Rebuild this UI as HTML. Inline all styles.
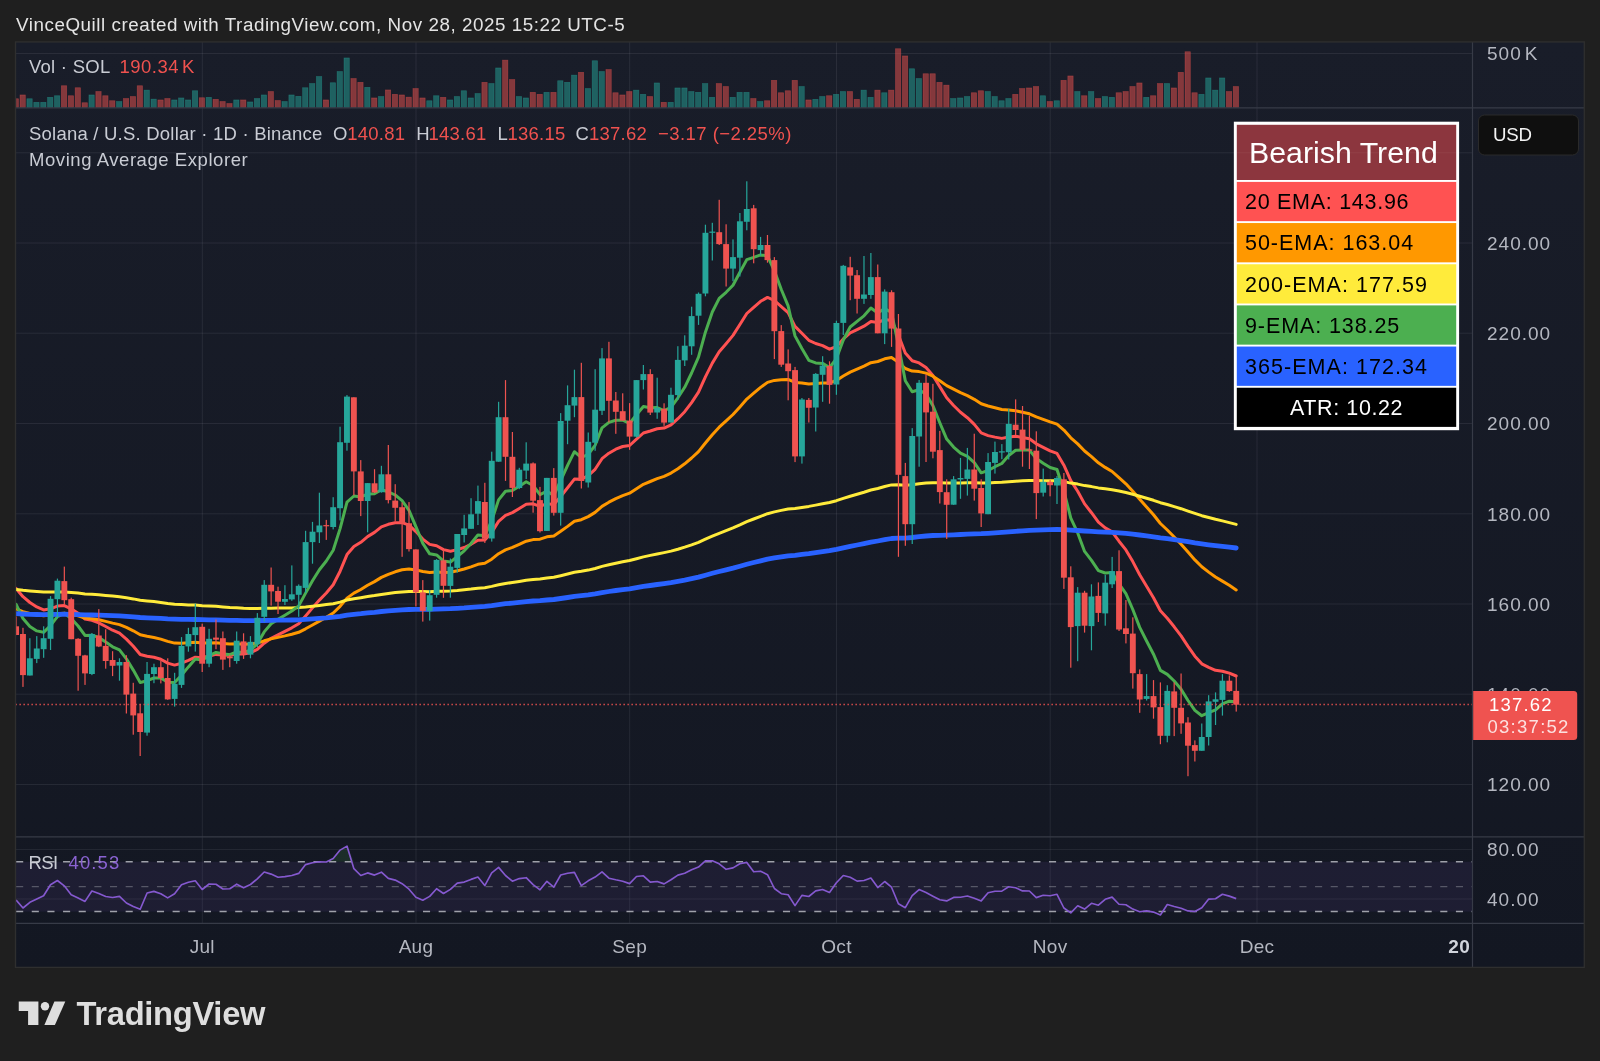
<!DOCTYPE html>
<html lang="en"><head><meta charset="utf-8"><title>SOLUSD chart</title>
<style>
html,body{margin:0;padding:0;background:#1f1f1f;}
body{width:1600px;height:1061px;overflow:hidden;position:relative;font-family:"Liberation Sans", Arial, sans-serif;}
svg{position:absolute;left:0;top:0;display:block;will-change:transform;transform:translateZ(0)}
text{font-family:"Liberation Sans", Arial, sans-serif;}
.ax{fill:#b4b7c0;font-size:19px;letter-spacing:1.0px}
.lg{fill:#c9ccd4;font-size:18.5px}
.rd{fill:#f0524f}
.tb{font-size:21.5px;letter-spacing:0.6px;fill:#000}
</style></head><body>
<svg width="1600" height="1061" viewBox="0 0 1600 1061">
<defs>
<linearGradient id="bg" x1="0" y1="0" x2="0" y2="1"><stop offset="0" stop-color="#191d29"/><stop offset="1" stop-color="#131722"/></linearGradient>
<clipPath id="cm"><rect x="16.0" y="107.8" width="1456.5" height="729.0"/></clipPath>
<clipPath id="cv"><rect x="16.0" y="41.9" width="1456.5" height="65.9"/></clipPath>
<clipPath id="cr"><rect x="16.0" y="836.8" width="1456.5" height="86.5"/></clipPath>
</defs>

<text x="16" y="31" font-size="18.8" fill="#e4e4e4" letter-spacing="0.55">VinceQuill created with TradingView.com, Nov 28, 2025 15:22 UTC-5</text>
<rect x="15.5" y="41.9" width="1568.8" height="925.5" fill="url(#bg)"/>
<line x1="202.3" y1="41.9" x2="202.3" y2="923.3" stroke="rgba(240,243,250,0.08)" stroke-width="1"/>
<line x1="416.0" y1="41.9" x2="416.0" y2="923.3" stroke="rgba(240,243,250,0.08)" stroke-width="1"/>
<line x1="629.7" y1="41.9" x2="629.7" y2="923.3" stroke="rgba(240,243,250,0.08)" stroke-width="1"/>
<line x1="836.5" y1="41.9" x2="836.5" y2="923.3" stroke="rgba(240,243,250,0.08)" stroke-width="1"/>
<line x1="1050.2" y1="41.9" x2="1050.2" y2="923.3" stroke="rgba(240,243,250,0.08)" stroke-width="1"/>
<line x1="1257.0" y1="41.9" x2="1257.0" y2="923.3" stroke="rgba(240,243,250,0.08)" stroke-width="1"/>
<line x1="15.5" y1="152.8" x2="1472.5" y2="152.8" stroke="rgba(240,243,250,0.08)" stroke-width="1"/>
<line x1="15.5" y1="243.0" x2="1472.5" y2="243.0" stroke="rgba(240,243,250,0.08)" stroke-width="1"/>
<line x1="15.5" y1="333.2" x2="1472.5" y2="333.2" stroke="rgba(240,243,250,0.08)" stroke-width="1"/>
<line x1="15.5" y1="423.5" x2="1472.5" y2="423.5" stroke="rgba(240,243,250,0.08)" stroke-width="1"/>
<line x1="15.5" y1="513.8" x2="1472.5" y2="513.8" stroke="rgba(240,243,250,0.08)" stroke-width="1"/>
<line x1="15.5" y1="604.0" x2="1472.5" y2="604.0" stroke="rgba(240,243,250,0.08)" stroke-width="1"/>
<line x1="15.5" y1="694.2" x2="1472.5" y2="694.2" stroke="rgba(240,243,250,0.08)" stroke-width="1"/>
<line x1="15.5" y1="784.5" x2="1472.5" y2="784.5" stroke="rgba(240,243,250,0.08)" stroke-width="1"/>
<line x1="15.5" y1="53.5" x2="1472.5" y2="53.5" stroke="rgba(240,243,250,0.08)" stroke-width="1"/>
<line x1="15.5" y1="849.6" x2="1472.5" y2="849.6" stroke="rgba(240,243,250,0.08)" stroke-width="1"/>
<line x1="15.5" y1="899" x2="1472.5" y2="899" stroke="rgba(240,243,250,0.08)" stroke-width="1"/>
<g clip-path="url(#cv)">
<rect x="13.13" y="98.75" width="5.3" height="8.80" fill="#ef5350" fill-opacity="0.5" stroke="#ef5350" stroke-opacity="0.42" stroke-width="0.7"/>
<rect x="20.02" y="94.95" width="5.3" height="12.60" fill="#ef5350" fill-opacity="0.5" stroke="#ef5350" stroke-opacity="0.42" stroke-width="0.7"/>
<rect x="26.91" y="98.75" width="5.3" height="8.80" fill="#26a69a" fill-opacity="0.5" stroke="#26a69a" stroke-opacity="0.42" stroke-width="0.7"/>
<rect x="33.81" y="102.35" width="5.3" height="5.20" fill="#26a69a" fill-opacity="0.5" stroke="#26a69a" stroke-opacity="0.42" stroke-width="0.7"/>
<rect x="40.70" y="102.35" width="5.3" height="5.20" fill="#26a69a" fill-opacity="0.5" stroke="#26a69a" stroke-opacity="0.42" stroke-width="0.7"/>
<rect x="47.59" y="97.35" width="5.3" height="10.20" fill="#26a69a" fill-opacity="0.5" stroke="#26a69a" stroke-opacity="0.42" stroke-width="0.7"/>
<rect x="54.49" y="95.75" width="5.3" height="11.80" fill="#26a69a" fill-opacity="0.5" stroke="#26a69a" stroke-opacity="0.42" stroke-width="0.7"/>
<rect x="61.38" y="85.75" width="5.3" height="21.80" fill="#ef5350" fill-opacity="0.5" stroke="#ef5350" stroke-opacity="0.42" stroke-width="0.7"/>
<rect x="68.27" y="95.75" width="5.3" height="11.80" fill="#ef5350" fill-opacity="0.5" stroke="#ef5350" stroke-opacity="0.42" stroke-width="0.7"/>
<rect x="75.17" y="87.75" width="5.3" height="19.80" fill="#ef5350" fill-opacity="0.5" stroke="#ef5350" stroke-opacity="0.42" stroke-width="0.7"/>
<rect x="82.06" y="102.75" width="5.3" height="4.80" fill="#ef5350" fill-opacity="0.5" stroke="#ef5350" stroke-opacity="0.42" stroke-width="0.7"/>
<rect x="88.95" y="94.95" width="5.3" height="12.60" fill="#26a69a" fill-opacity="0.5" stroke="#26a69a" stroke-opacity="0.42" stroke-width="0.7"/>
<rect x="95.85" y="91.55" width="5.3" height="16.00" fill="#ef5350" fill-opacity="0.5" stroke="#ef5350" stroke-opacity="0.42" stroke-width="0.7"/>
<rect x="102.74" y="95.75" width="5.3" height="11.80" fill="#ef5350" fill-opacity="0.5" stroke="#ef5350" stroke-opacity="0.42" stroke-width="0.7"/>
<rect x="109.63" y="100.75" width="5.3" height="6.80" fill="#ef5350" fill-opacity="0.5" stroke="#ef5350" stroke-opacity="0.42" stroke-width="0.7"/>
<rect x="116.53" y="101.55" width="5.3" height="6.00" fill="#26a69a" fill-opacity="0.5" stroke="#26a69a" stroke-opacity="0.42" stroke-width="0.7"/>
<rect x="123.42" y="98.55" width="5.3" height="9.00" fill="#ef5350" fill-opacity="0.5" stroke="#ef5350" stroke-opacity="0.42" stroke-width="0.7"/>
<rect x="130.31" y="96.55" width="5.3" height="11.00" fill="#ef5350" fill-opacity="0.5" stroke="#ef5350" stroke-opacity="0.42" stroke-width="0.7"/>
<rect x="137.21" y="85.75" width="5.3" height="21.80" fill="#ef5350" fill-opacity="0.5" stroke="#ef5350" stroke-opacity="0.42" stroke-width="0.7"/>
<rect x="144.10" y="90.15" width="5.3" height="17.40" fill="#26a69a" fill-opacity="0.5" stroke="#26a69a" stroke-opacity="0.42" stroke-width="0.7"/>
<rect x="151.00" y="99.15" width="5.3" height="8.40" fill="#26a69a" fill-opacity="0.5" stroke="#26a69a" stroke-opacity="0.42" stroke-width="0.7"/>
<rect x="157.89" y="99.95" width="5.3" height="7.60" fill="#ef5350" fill-opacity="0.5" stroke="#ef5350" stroke-opacity="0.42" stroke-width="0.7"/>
<rect x="164.78" y="98.55" width="5.3" height="9.00" fill="#ef5350" fill-opacity="0.5" stroke="#ef5350" stroke-opacity="0.42" stroke-width="0.7"/>
<rect x="171.68" y="99.95" width="5.3" height="7.60" fill="#26a69a" fill-opacity="0.5" stroke="#26a69a" stroke-opacity="0.42" stroke-width="0.7"/>
<rect x="178.57" y="97.95" width="5.3" height="9.60" fill="#26a69a" fill-opacity="0.5" stroke="#26a69a" stroke-opacity="0.42" stroke-width="0.7"/>
<rect x="185.46" y="99.95" width="5.3" height="7.60" fill="#26a69a" fill-opacity="0.5" stroke="#26a69a" stroke-opacity="0.42" stroke-width="0.7"/>
<rect x="192.36" y="90.75" width="5.3" height="16.80" fill="#26a69a" fill-opacity="0.5" stroke="#26a69a" stroke-opacity="0.42" stroke-width="0.7"/>
<rect x="199.25" y="97.75" width="5.3" height="9.80" fill="#ef5350" fill-opacity="0.5" stroke="#ef5350" stroke-opacity="0.42" stroke-width="0.7"/>
<rect x="206.14" y="97.35" width="5.3" height="10.20" fill="#26a69a" fill-opacity="0.5" stroke="#26a69a" stroke-opacity="0.42" stroke-width="0.7"/>
<rect x="213.04" y="99.35" width="5.3" height="8.20" fill="#ef5350" fill-opacity="0.5" stroke="#ef5350" stroke-opacity="0.42" stroke-width="0.7"/>
<rect x="219.93" y="101.55" width="5.3" height="6.00" fill="#ef5350" fill-opacity="0.5" stroke="#ef5350" stroke-opacity="0.42" stroke-width="0.7"/>
<rect x="226.82" y="103.55" width="5.3" height="4.00" fill="#ef5350" fill-opacity="0.5" stroke="#ef5350" stroke-opacity="0.42" stroke-width="0.7"/>
<rect x="233.72" y="99.95" width="5.3" height="7.60" fill="#26a69a" fill-opacity="0.5" stroke="#26a69a" stroke-opacity="0.42" stroke-width="0.7"/>
<rect x="240.61" y="99.95" width="5.3" height="7.60" fill="#ef5350" fill-opacity="0.5" stroke="#ef5350" stroke-opacity="0.42" stroke-width="0.7"/>
<rect x="247.50" y="101.95" width="5.3" height="5.60" fill="#26a69a" fill-opacity="0.5" stroke="#26a69a" stroke-opacity="0.42" stroke-width="0.7"/>
<rect x="254.40" y="98.55" width="5.3" height="9.00" fill="#26a69a" fill-opacity="0.5" stroke="#26a69a" stroke-opacity="0.42" stroke-width="0.7"/>
<rect x="261.29" y="94.95" width="5.3" height="12.60" fill="#26a69a" fill-opacity="0.5" stroke="#26a69a" stroke-opacity="0.42" stroke-width="0.7"/>
<rect x="268.19" y="91.55" width="5.3" height="16.00" fill="#ef5350" fill-opacity="0.5" stroke="#ef5350" stroke-opacity="0.42" stroke-width="0.7"/>
<rect x="275.08" y="100.55" width="5.3" height="7.00" fill="#ef5350" fill-opacity="0.5" stroke="#ef5350" stroke-opacity="0.42" stroke-width="0.7"/>
<rect x="281.97" y="101.55" width="5.3" height="6.00" fill="#26a69a" fill-opacity="0.5" stroke="#26a69a" stroke-opacity="0.42" stroke-width="0.7"/>
<rect x="288.87" y="94.95" width="5.3" height="12.60" fill="#26a69a" fill-opacity="0.5" stroke="#26a69a" stroke-opacity="0.42" stroke-width="0.7"/>
<rect x="295.76" y="96.35" width="5.3" height="11.20" fill="#26a69a" fill-opacity="0.5" stroke="#26a69a" stroke-opacity="0.42" stroke-width="0.7"/>
<rect x="302.65" y="87.75" width="5.3" height="19.80" fill="#26a69a" fill-opacity="0.5" stroke="#26a69a" stroke-opacity="0.42" stroke-width="0.7"/>
<rect x="309.55" y="83.55" width="5.3" height="24.00" fill="#26a69a" fill-opacity="0.5" stroke="#26a69a" stroke-opacity="0.42" stroke-width="0.7"/>
<rect x="316.44" y="76.55" width="5.3" height="31.00" fill="#26a69a" fill-opacity="0.5" stroke="#26a69a" stroke-opacity="0.42" stroke-width="0.7"/>
<rect x="323.33" y="99.95" width="5.3" height="7.60" fill="#ef5350" fill-opacity="0.5" stroke="#ef5350" stroke-opacity="0.42" stroke-width="0.7"/>
<rect x="330.23" y="82.75" width="5.3" height="24.80" fill="#26a69a" fill-opacity="0.5" stroke="#26a69a" stroke-opacity="0.42" stroke-width="0.7"/>
<rect x="337.12" y="71.55" width="5.3" height="36.00" fill="#26a69a" fill-opacity="0.5" stroke="#26a69a" stroke-opacity="0.42" stroke-width="0.7"/>
<rect x="344.01" y="57.95" width="5.3" height="49.60" fill="#26a69a" fill-opacity="0.5" stroke="#26a69a" stroke-opacity="0.42" stroke-width="0.7"/>
<rect x="350.91" y="78.55" width="5.3" height="29.00" fill="#ef5350" fill-opacity="0.5" stroke="#ef5350" stroke-opacity="0.42" stroke-width="0.7"/>
<rect x="357.80" y="82.35" width="5.3" height="25.20" fill="#ef5350" fill-opacity="0.5" stroke="#ef5350" stroke-opacity="0.42" stroke-width="0.7"/>
<rect x="364.69" y="87.35" width="5.3" height="20.20" fill="#26a69a" fill-opacity="0.5" stroke="#26a69a" stroke-opacity="0.42" stroke-width="0.7"/>
<rect x="371.59" y="97.95" width="5.3" height="9.60" fill="#ef5350" fill-opacity="0.5" stroke="#ef5350" stroke-opacity="0.42" stroke-width="0.7"/>
<rect x="378.48" y="96.55" width="5.3" height="11.00" fill="#26a69a" fill-opacity="0.5" stroke="#26a69a" stroke-opacity="0.42" stroke-width="0.7"/>
<rect x="385.37" y="89.95" width="5.3" height="17.60" fill="#ef5350" fill-opacity="0.5" stroke="#ef5350" stroke-opacity="0.42" stroke-width="0.7"/>
<rect x="392.27" y="94.35" width="5.3" height="13.20" fill="#ef5350" fill-opacity="0.5" stroke="#ef5350" stroke-opacity="0.42" stroke-width="0.7"/>
<rect x="399.16" y="94.95" width="5.3" height="12.60" fill="#ef5350" fill-opacity="0.5" stroke="#ef5350" stroke-opacity="0.42" stroke-width="0.7"/>
<rect x="406.06" y="97.15" width="5.3" height="10.40" fill="#ef5350" fill-opacity="0.5" stroke="#ef5350" stroke-opacity="0.42" stroke-width="0.7"/>
<rect x="412.95" y="88.55" width="5.3" height="19.00" fill="#ef5350" fill-opacity="0.5" stroke="#ef5350" stroke-opacity="0.42" stroke-width="0.7"/>
<rect x="419.84" y="97.95" width="5.3" height="9.60" fill="#ef5350" fill-opacity="0.5" stroke="#ef5350" stroke-opacity="0.42" stroke-width="0.7"/>
<rect x="426.74" y="100.75" width="5.3" height="6.80" fill="#26a69a" fill-opacity="0.5" stroke="#26a69a" stroke-opacity="0.42" stroke-width="0.7"/>
<rect x="433.63" y="95.75" width="5.3" height="11.80" fill="#26a69a" fill-opacity="0.5" stroke="#26a69a" stroke-opacity="0.42" stroke-width="0.7"/>
<rect x="440.52" y="97.35" width="5.3" height="10.20" fill="#ef5350" fill-opacity="0.5" stroke="#ef5350" stroke-opacity="0.42" stroke-width="0.7"/>
<rect x="447.42" y="99.95" width="5.3" height="7.60" fill="#26a69a" fill-opacity="0.5" stroke="#26a69a" stroke-opacity="0.42" stroke-width="0.7"/>
<rect x="454.31" y="96.55" width="5.3" height="11.00" fill="#26a69a" fill-opacity="0.5" stroke="#26a69a" stroke-opacity="0.42" stroke-width="0.7"/>
<rect x="461.20" y="90.75" width="5.3" height="16.80" fill="#26a69a" fill-opacity="0.5" stroke="#26a69a" stroke-opacity="0.42" stroke-width="0.7"/>
<rect x="468.10" y="97.95" width="5.3" height="9.60" fill="#26a69a" fill-opacity="0.5" stroke="#26a69a" stroke-opacity="0.42" stroke-width="0.7"/>
<rect x="474.99" y="93.55" width="5.3" height="14.00" fill="#26a69a" fill-opacity="0.5" stroke="#26a69a" stroke-opacity="0.42" stroke-width="0.7"/>
<rect x="481.88" y="82.35" width="5.3" height="25.20" fill="#ef5350" fill-opacity="0.5" stroke="#ef5350" stroke-opacity="0.42" stroke-width="0.7"/>
<rect x="488.78" y="83.55" width="5.3" height="24.00" fill="#26a69a" fill-opacity="0.5" stroke="#26a69a" stroke-opacity="0.42" stroke-width="0.7"/>
<rect x="495.67" y="67.95" width="5.3" height="39.60" fill="#26a69a" fill-opacity="0.5" stroke="#26a69a" stroke-opacity="0.42" stroke-width="0.7"/>
<rect x="502.56" y="60.15" width="5.3" height="47.40" fill="#ef5350" fill-opacity="0.5" stroke="#ef5350" stroke-opacity="0.42" stroke-width="0.7"/>
<rect x="509.46" y="79.55" width="5.3" height="28.00" fill="#ef5350" fill-opacity="0.5" stroke="#ef5350" stroke-opacity="0.42" stroke-width="0.7"/>
<rect x="516.35" y="96.55" width="5.3" height="11.00" fill="#26a69a" fill-opacity="0.5" stroke="#26a69a" stroke-opacity="0.42" stroke-width="0.7"/>
<rect x="523.24" y="97.95" width="5.3" height="9.60" fill="#26a69a" fill-opacity="0.5" stroke="#26a69a" stroke-opacity="0.42" stroke-width="0.7"/>
<rect x="530.14" y="92.35" width="5.3" height="15.20" fill="#ef5350" fill-opacity="0.5" stroke="#ef5350" stroke-opacity="0.42" stroke-width="0.7"/>
<rect x="537.03" y="94.35" width="5.3" height="13.20" fill="#ef5350" fill-opacity="0.5" stroke="#ef5350" stroke-opacity="0.42" stroke-width="0.7"/>
<rect x="543.92" y="92.35" width="5.3" height="15.20" fill="#26a69a" fill-opacity="0.5" stroke="#26a69a" stroke-opacity="0.42" stroke-width="0.7"/>
<rect x="550.82" y="92.35" width="5.3" height="15.20" fill="#ef5350" fill-opacity="0.5" stroke="#ef5350" stroke-opacity="0.42" stroke-width="0.7"/>
<rect x="557.71" y="80.75" width="5.3" height="26.80" fill="#26a69a" fill-opacity="0.5" stroke="#26a69a" stroke-opacity="0.42" stroke-width="0.7"/>
<rect x="564.61" y="82.35" width="5.3" height="25.20" fill="#26a69a" fill-opacity="0.5" stroke="#26a69a" stroke-opacity="0.42" stroke-width="0.7"/>
<rect x="571.50" y="75.15" width="5.3" height="32.40" fill="#26a69a" fill-opacity="0.5" stroke="#26a69a" stroke-opacity="0.42" stroke-width="0.7"/>
<rect x="578.39" y="72.35" width="5.3" height="35.20" fill="#ef5350" fill-opacity="0.5" stroke="#ef5350" stroke-opacity="0.42" stroke-width="0.7"/>
<rect x="585.29" y="88.55" width="5.3" height="19.00" fill="#26a69a" fill-opacity="0.5" stroke="#26a69a" stroke-opacity="0.42" stroke-width="0.7"/>
<rect x="592.18" y="60.75" width="5.3" height="46.80" fill="#26a69a" fill-opacity="0.5" stroke="#26a69a" stroke-opacity="0.42" stroke-width="0.7"/>
<rect x="599.07" y="71.55" width="5.3" height="36.00" fill="#26a69a" fill-opacity="0.5" stroke="#26a69a" stroke-opacity="0.42" stroke-width="0.7"/>
<rect x="605.97" y="69.55" width="5.3" height="38.00" fill="#ef5350" fill-opacity="0.5" stroke="#ef5350" stroke-opacity="0.42" stroke-width="0.7"/>
<rect x="612.86" y="92.75" width="5.3" height="14.80" fill="#ef5350" fill-opacity="0.5" stroke="#ef5350" stroke-opacity="0.42" stroke-width="0.7"/>
<rect x="619.75" y="94.95" width="5.3" height="12.60" fill="#ef5350" fill-opacity="0.5" stroke="#ef5350" stroke-opacity="0.42" stroke-width="0.7"/>
<rect x="626.65" y="91.55" width="5.3" height="16.00" fill="#ef5350" fill-opacity="0.5" stroke="#ef5350" stroke-opacity="0.42" stroke-width="0.7"/>
<rect x="633.54" y="90.15" width="5.3" height="17.40" fill="#26a69a" fill-opacity="0.5" stroke="#26a69a" stroke-opacity="0.42" stroke-width="0.7"/>
<rect x="640.43" y="94.35" width="5.3" height="13.20" fill="#26a69a" fill-opacity="0.5" stroke="#26a69a" stroke-opacity="0.42" stroke-width="0.7"/>
<rect x="647.33" y="96.55" width="5.3" height="11.00" fill="#ef5350" fill-opacity="0.5" stroke="#ef5350" stroke-opacity="0.42" stroke-width="0.7"/>
<rect x="654.22" y="82.95" width="5.3" height="24.60" fill="#26a69a" fill-opacity="0.5" stroke="#26a69a" stroke-opacity="0.42" stroke-width="0.7"/>
<rect x="661.11" y="102.35" width="5.3" height="5.20" fill="#ef5350" fill-opacity="0.5" stroke="#ef5350" stroke-opacity="0.42" stroke-width="0.7"/>
<rect x="668.01" y="102.35" width="5.3" height="5.20" fill="#26a69a" fill-opacity="0.5" stroke="#26a69a" stroke-opacity="0.42" stroke-width="0.7"/>
<rect x="674.90" y="87.95" width="5.3" height="19.60" fill="#26a69a" fill-opacity="0.5" stroke="#26a69a" stroke-opacity="0.42" stroke-width="0.7"/>
<rect x="681.79" y="87.95" width="5.3" height="19.60" fill="#26a69a" fill-opacity="0.5" stroke="#26a69a" stroke-opacity="0.42" stroke-width="0.7"/>
<rect x="688.69" y="91.55" width="5.3" height="16.00" fill="#26a69a" fill-opacity="0.5" stroke="#26a69a" stroke-opacity="0.42" stroke-width="0.7"/>
<rect x="695.58" y="92.35" width="5.3" height="15.20" fill="#26a69a" fill-opacity="0.5" stroke="#26a69a" stroke-opacity="0.42" stroke-width="0.7"/>
<rect x="702.48" y="83.55" width="5.3" height="24.00" fill="#26a69a" fill-opacity="0.5" stroke="#26a69a" stroke-opacity="0.42" stroke-width="0.7"/>
<rect x="709.37" y="97.35" width="5.3" height="10.20" fill="#26a69a" fill-opacity="0.5" stroke="#26a69a" stroke-opacity="0.42" stroke-width="0.7"/>
<rect x="716.26" y="83.55" width="5.3" height="24.00" fill="#ef5350" fill-opacity="0.5" stroke="#ef5350" stroke-opacity="0.42" stroke-width="0.7"/>
<rect x="723.16" y="86.55" width="5.3" height="21.00" fill="#ef5350" fill-opacity="0.5" stroke="#ef5350" stroke-opacity="0.42" stroke-width="0.7"/>
<rect x="730.05" y="97.35" width="5.3" height="10.20" fill="#26a69a" fill-opacity="0.5" stroke="#26a69a" stroke-opacity="0.42" stroke-width="0.7"/>
<rect x="736.94" y="92.35" width="5.3" height="15.20" fill="#26a69a" fill-opacity="0.5" stroke="#26a69a" stroke-opacity="0.42" stroke-width="0.7"/>
<rect x="743.84" y="92.35" width="5.3" height="15.20" fill="#26a69a" fill-opacity="0.5" stroke="#26a69a" stroke-opacity="0.42" stroke-width="0.7"/>
<rect x="750.73" y="98.55" width="5.3" height="9.00" fill="#ef5350" fill-opacity="0.5" stroke="#ef5350" stroke-opacity="0.42" stroke-width="0.7"/>
<rect x="757.62" y="101.55" width="5.3" height="6.00" fill="#26a69a" fill-opacity="0.5" stroke="#26a69a" stroke-opacity="0.42" stroke-width="0.7"/>
<rect x="764.52" y="100.75" width="5.3" height="6.80" fill="#ef5350" fill-opacity="0.5" stroke="#ef5350" stroke-opacity="0.42" stroke-width="0.7"/>
<rect x="771.41" y="80.35" width="5.3" height="27.20" fill="#ef5350" fill-opacity="0.5" stroke="#ef5350" stroke-opacity="0.42" stroke-width="0.7"/>
<rect x="778.30" y="92.75" width="5.3" height="14.80" fill="#ef5350" fill-opacity="0.5" stroke="#ef5350" stroke-opacity="0.42" stroke-width="0.7"/>
<rect x="785.20" y="90.75" width="5.3" height="16.80" fill="#ef5350" fill-opacity="0.5" stroke="#ef5350" stroke-opacity="0.42" stroke-width="0.7"/>
<rect x="792.09" y="80.35" width="5.3" height="27.20" fill="#ef5350" fill-opacity="0.5" stroke="#ef5350" stroke-opacity="0.42" stroke-width="0.7"/>
<rect x="798.98" y="86.55" width="5.3" height="21.00" fill="#26a69a" fill-opacity="0.5" stroke="#26a69a" stroke-opacity="0.42" stroke-width="0.7"/>
<rect x="805.88" y="99.95" width="5.3" height="7.60" fill="#ef5350" fill-opacity="0.5" stroke="#ef5350" stroke-opacity="0.42" stroke-width="0.7"/>
<rect x="812.77" y="99.35" width="5.3" height="8.20" fill="#26a69a" fill-opacity="0.5" stroke="#26a69a" stroke-opacity="0.42" stroke-width="0.7"/>
<rect x="819.66" y="96.55" width="5.3" height="11.00" fill="#26a69a" fill-opacity="0.5" stroke="#26a69a" stroke-opacity="0.42" stroke-width="0.7"/>
<rect x="826.56" y="95.75" width="5.3" height="11.80" fill="#ef5350" fill-opacity="0.5" stroke="#ef5350" stroke-opacity="0.42" stroke-width="0.7"/>
<rect x="833.45" y="94.35" width="5.3" height="13.20" fill="#26a69a" fill-opacity="0.5" stroke="#26a69a" stroke-opacity="0.42" stroke-width="0.7"/>
<rect x="840.35" y="91.55" width="5.3" height="16.00" fill="#26a69a" fill-opacity="0.5" stroke="#26a69a" stroke-opacity="0.42" stroke-width="0.7"/>
<rect x="847.24" y="91.55" width="5.3" height="16.00" fill="#ef5350" fill-opacity="0.5" stroke="#ef5350" stroke-opacity="0.42" stroke-width="0.7"/>
<rect x="854.13" y="99.35" width="5.3" height="8.20" fill="#ef5350" fill-opacity="0.5" stroke="#ef5350" stroke-opacity="0.42" stroke-width="0.7"/>
<rect x="861.03" y="90.15" width="5.3" height="17.40" fill="#26a69a" fill-opacity="0.5" stroke="#26a69a" stroke-opacity="0.42" stroke-width="0.7"/>
<rect x="867.92" y="97.35" width="5.3" height="10.20" fill="#26a69a" fill-opacity="0.5" stroke="#26a69a" stroke-opacity="0.42" stroke-width="0.7"/>
<rect x="874.81" y="90.15" width="5.3" height="17.40" fill="#ef5350" fill-opacity="0.5" stroke="#ef5350" stroke-opacity="0.42" stroke-width="0.7"/>
<rect x="881.71" y="92.75" width="5.3" height="14.80" fill="#26a69a" fill-opacity="0.5" stroke="#26a69a" stroke-opacity="0.42" stroke-width="0.7"/>
<rect x="888.60" y="90.15" width="5.3" height="17.40" fill="#ef5350" fill-opacity="0.5" stroke="#ef5350" stroke-opacity="0.42" stroke-width="0.7"/>
<rect x="895.49" y="48.75" width="5.3" height="58.80" fill="#ef5350" fill-opacity="0.5" stroke="#ef5350" stroke-opacity="0.42" stroke-width="0.7"/>
<rect x="902.39" y="55.95" width="5.3" height="51.60" fill="#ef5350" fill-opacity="0.5" stroke="#ef5350" stroke-opacity="0.42" stroke-width="0.7"/>
<rect x="909.28" y="68.75" width="5.3" height="38.80" fill="#26a69a" fill-opacity="0.5" stroke="#26a69a" stroke-opacity="0.42" stroke-width="0.7"/>
<rect x="916.17" y="78.55" width="5.3" height="29.00" fill="#26a69a" fill-opacity="0.5" stroke="#26a69a" stroke-opacity="0.42" stroke-width="0.7"/>
<rect x="923.07" y="73.75" width="5.3" height="33.80" fill="#ef5350" fill-opacity="0.5" stroke="#ef5350" stroke-opacity="0.42" stroke-width="0.7"/>
<rect x="929.96" y="73.75" width="5.3" height="33.80" fill="#ef5350" fill-opacity="0.5" stroke="#ef5350" stroke-opacity="0.42" stroke-width="0.7"/>
<rect x="936.85" y="82.35" width="5.3" height="25.20" fill="#ef5350" fill-opacity="0.5" stroke="#ef5350" stroke-opacity="0.42" stroke-width="0.7"/>
<rect x="943.75" y="85.15" width="5.3" height="22.40" fill="#ef5350" fill-opacity="0.5" stroke="#ef5350" stroke-opacity="0.42" stroke-width="0.7"/>
<rect x="950.64" y="98.55" width="5.3" height="9.00" fill="#26a69a" fill-opacity="0.5" stroke="#26a69a" stroke-opacity="0.42" stroke-width="0.7"/>
<rect x="957.54" y="97.95" width="5.3" height="9.60" fill="#26a69a" fill-opacity="0.5" stroke="#26a69a" stroke-opacity="0.42" stroke-width="0.7"/>
<rect x="964.43" y="96.55" width="5.3" height="11.00" fill="#26a69a" fill-opacity="0.5" stroke="#26a69a" stroke-opacity="0.42" stroke-width="0.7"/>
<rect x="971.32" y="92.75" width="5.3" height="14.80" fill="#ef5350" fill-opacity="0.5" stroke="#ef5350" stroke-opacity="0.42" stroke-width="0.7"/>
<rect x="978.22" y="90.75" width="5.3" height="16.80" fill="#ef5350" fill-opacity="0.5" stroke="#ef5350" stroke-opacity="0.42" stroke-width="0.7"/>
<rect x="985.11" y="91.55" width="5.3" height="16.00" fill="#26a69a" fill-opacity="0.5" stroke="#26a69a" stroke-opacity="0.42" stroke-width="0.7"/>
<rect x="992.00" y="96.55" width="5.3" height="11.00" fill="#26a69a" fill-opacity="0.5" stroke="#26a69a" stroke-opacity="0.42" stroke-width="0.7"/>
<rect x="998.90" y="100.75" width="5.3" height="6.80" fill="#26a69a" fill-opacity="0.5" stroke="#26a69a" stroke-opacity="0.42" stroke-width="0.7"/>
<rect x="1005.79" y="98.55" width="5.3" height="9.00" fill="#26a69a" fill-opacity="0.5" stroke="#26a69a" stroke-opacity="0.42" stroke-width="0.7"/>
<rect x="1012.68" y="94.35" width="5.3" height="13.20" fill="#ef5350" fill-opacity="0.5" stroke="#ef5350" stroke-opacity="0.42" stroke-width="0.7"/>
<rect x="1019.58" y="88.55" width="5.3" height="19.00" fill="#ef5350" fill-opacity="0.5" stroke="#ef5350" stroke-opacity="0.42" stroke-width="0.7"/>
<rect x="1026.47" y="87.95" width="5.3" height="19.60" fill="#ef5350" fill-opacity="0.5" stroke="#ef5350" stroke-opacity="0.42" stroke-width="0.7"/>
<rect x="1033.36" y="86.55" width="5.3" height="21.00" fill="#ef5350" fill-opacity="0.5" stroke="#ef5350" stroke-opacity="0.42" stroke-width="0.7"/>
<rect x="1040.26" y="95.75" width="5.3" height="11.80" fill="#26a69a" fill-opacity="0.5" stroke="#26a69a" stroke-opacity="0.42" stroke-width="0.7"/>
<rect x="1047.15" y="101.55" width="5.3" height="6.00" fill="#ef5350" fill-opacity="0.5" stroke="#ef5350" stroke-opacity="0.42" stroke-width="0.7"/>
<rect x="1054.04" y="100.75" width="5.3" height="6.80" fill="#26a69a" fill-opacity="0.5" stroke="#26a69a" stroke-opacity="0.42" stroke-width="0.7"/>
<rect x="1060.94" y="80.35" width="5.3" height="27.20" fill="#ef5350" fill-opacity="0.5" stroke="#ef5350" stroke-opacity="0.42" stroke-width="0.7"/>
<rect x="1067.83" y="75.95" width="5.3" height="31.60" fill="#ef5350" fill-opacity="0.5" stroke="#ef5350" stroke-opacity="0.42" stroke-width="0.7"/>
<rect x="1074.72" y="91.55" width="5.3" height="16.00" fill="#26a69a" fill-opacity="0.5" stroke="#26a69a" stroke-opacity="0.42" stroke-width="0.7"/>
<rect x="1081.62" y="95.75" width="5.3" height="11.80" fill="#ef5350" fill-opacity="0.5" stroke="#ef5350" stroke-opacity="0.42" stroke-width="0.7"/>
<rect x="1088.51" y="91.55" width="5.3" height="16.00" fill="#26a69a" fill-opacity="0.5" stroke="#26a69a" stroke-opacity="0.42" stroke-width="0.7"/>
<rect x="1095.40" y="98.55" width="5.3" height="9.00" fill="#ef5350" fill-opacity="0.5" stroke="#ef5350" stroke-opacity="0.42" stroke-width="0.7"/>
<rect x="1102.30" y="96.55" width="5.3" height="11.00" fill="#26a69a" fill-opacity="0.5" stroke="#26a69a" stroke-opacity="0.42" stroke-width="0.7"/>
<rect x="1109.19" y="97.35" width="5.3" height="10.20" fill="#26a69a" fill-opacity="0.5" stroke="#26a69a" stroke-opacity="0.42" stroke-width="0.7"/>
<rect x="1116.09" y="92.75" width="5.3" height="14.80" fill="#ef5350" fill-opacity="0.5" stroke="#ef5350" stroke-opacity="0.42" stroke-width="0.7"/>
<rect x="1122.98" y="91.55" width="5.3" height="16.00" fill="#ef5350" fill-opacity="0.5" stroke="#ef5350" stroke-opacity="0.42" stroke-width="0.7"/>
<rect x="1129.87" y="86.55" width="5.3" height="21.00" fill="#ef5350" fill-opacity="0.5" stroke="#ef5350" stroke-opacity="0.42" stroke-width="0.7"/>
<rect x="1136.77" y="82.95" width="5.3" height="24.60" fill="#ef5350" fill-opacity="0.5" stroke="#ef5350" stroke-opacity="0.42" stroke-width="0.7"/>
<rect x="1143.66" y="97.35" width="5.3" height="10.20" fill="#26a69a" fill-opacity="0.5" stroke="#26a69a" stroke-opacity="0.42" stroke-width="0.7"/>
<rect x="1150.55" y="95.75" width="5.3" height="11.80" fill="#ef5350" fill-opacity="0.5" stroke="#ef5350" stroke-opacity="0.42" stroke-width="0.7"/>
<rect x="1157.45" y="83.55" width="5.3" height="24.00" fill="#ef5350" fill-opacity="0.5" stroke="#ef5350" stroke-opacity="0.42" stroke-width="0.7"/>
<rect x="1164.34" y="83.55" width="5.3" height="24.00" fill="#26a69a" fill-opacity="0.5" stroke="#26a69a" stroke-opacity="0.42" stroke-width="0.7"/>
<rect x="1171.23" y="87.95" width="5.3" height="19.60" fill="#ef5350" fill-opacity="0.5" stroke="#ef5350" stroke-opacity="0.42" stroke-width="0.7"/>
<rect x="1178.13" y="72.35" width="5.3" height="35.20" fill="#ef5350" fill-opacity="0.5" stroke="#ef5350" stroke-opacity="0.42" stroke-width="0.7"/>
<rect x="1185.02" y="51.75" width="5.3" height="55.80" fill="#ef5350" fill-opacity="0.5" stroke="#ef5350" stroke-opacity="0.42" stroke-width="0.7"/>
<rect x="1191.91" y="92.75" width="5.3" height="14.80" fill="#ef5350" fill-opacity="0.5" stroke="#ef5350" stroke-opacity="0.42" stroke-width="0.7"/>
<rect x="1198.81" y="94.35" width="5.3" height="13.20" fill="#26a69a" fill-opacity="0.5" stroke="#26a69a" stroke-opacity="0.42" stroke-width="0.7"/>
<rect x="1205.70" y="77.95" width="5.3" height="29.60" fill="#26a69a" fill-opacity="0.5" stroke="#26a69a" stroke-opacity="0.42" stroke-width="0.7"/>
<rect x="1212.59" y="90.15" width="5.3" height="17.40" fill="#26a69a" fill-opacity="0.5" stroke="#26a69a" stroke-opacity="0.42" stroke-width="0.7"/>
<rect x="1219.49" y="77.95" width="5.3" height="29.60" fill="#26a69a" fill-opacity="0.5" stroke="#26a69a" stroke-opacity="0.42" stroke-width="0.7"/>
<rect x="1226.38" y="91.55" width="5.3" height="16.00" fill="#ef5350" fill-opacity="0.5" stroke="#ef5350" stroke-opacity="0.42" stroke-width="0.7"/>
<rect x="1233.28" y="86.55" width="5.3" height="21.00" fill="#ef5350" fill-opacity="0.5" stroke="#ef5350" stroke-opacity="0.42" stroke-width="0.7"/>
</g>
<g clip-path="url(#cm)">
<path d="M16.1,588.4 L23.0,596.7 L29.9,602.5 L36.8,606.9 L43.6,609.9 L50.5,608.8 L57.4,606.1 L64.3,605.6 L71.2,608.8 L78.1,613.2 L85.0,619.0 L91.9,620.4 L98.8,622.9 L105.7,626.5 L112.6,630.2 L119.5,633.2 L126.4,639.1 L133.3,646.3 L140.2,654.5 L147.1,656.3 L153.9,657.3 L160.8,659.3 L167.7,663.1 L174.6,665.1 L181.5,663.2 L188.4,660.4 L195.3,657.2 L202.2,657.8 L209.1,656.0 L216.0,654.4 L222.9,654.9 L229.8,655.2 L236.7,653.8 L243.6,653.9 L250.5,652.7 L257.3,649.4 L264.2,643.2 L271.1,638.3 L278.0,634.8 L284.9,631.3 L291.8,627.8 L298.7,623.8 L305.6,616.0 L312.5,607.9 L319.4,600.1 L326.3,593.0 L333.2,584.8 L340.1,571.2 L347.0,554.6 L353.9,546.6 L360.8,542.3 L367.6,536.6 L374.5,532.4 L381.4,526.8 L388.3,524.3 L395.2,522.7 L402.1,522.7 L409.0,525.2 L415.9,531.6 L422.8,539.1 L429.7,544.4 L436.6,545.8 L443.5,549.6 L450.4,551.2 L457.3,549.6 L464.2,547.5 L471.0,544.3 L477.9,540.2 L484.8,540.0 L491.7,532.4 L498.6,521.4 L505.5,515.3 L512.4,512.6 L519.3,508.5 L526.2,504.2 L533.1,503.8 L540.0,506.4 L546.9,503.7 L553.8,504.5 L560.7,496.5 L567.6,487.8 L574.4,479.1 L581.3,479.3 L588.2,475.6 L595.1,469.3 L602.0,458.7 L608.9,453.2 L615.8,449.2 L622.7,446.5 L629.6,445.5 L636.5,439.2 L643.4,433.0 L650.3,431.0 L657.2,428.8 L664.1,428.1 L671.0,424.9 L677.9,418.7 L684.7,411.7 L691.6,402.6 L698.5,392.2 L705.4,376.9 L712.3,363.1 L719.2,351.7 L726.1,343.7 L733.0,335.4 L739.9,324.5 L746.8,313.5 L753.7,307.3 L760.6,301.3 L767.5,297.4 L774.4,300.5 L781.3,306.6 L788.1,312.7 L795.0,326.4 L801.9,333.3 L808.8,340.3 L815.7,343.5 L822.6,345.6 L829.5,349.2 L836.4,346.7 L843.3,338.9 L850.2,332.9 L857.1,329.6 L864.0,326.2 L870.9,321.5 L877.8,322.5 L884.7,319.6 L891.5,320.4 L898.4,335.0 L905.3,353.0 L912.2,360.8 L919.1,362.9 L926.0,367.6 L932.9,375.5 L939.8,386.6 L946.7,397.8 L953.6,405.5 L960.5,412.3 L967.4,417.7 L974.3,424.4 L981.2,432.9 L988.1,435.6 L995.0,437.1 L1001.8,438.4 L1008.7,437.0 L1015.6,436.2 L1022.5,437.5 L1029.4,438.7 L1036.3,443.8 L1043.2,447.4 L1050.1,450.9 L1057.0,453.4 L1063.9,465.2 L1070.8,480.6 L1077.7,491.2 L1084.6,503.9 L1091.5,512.7 L1098.4,522.2 L1105.2,527.9 L1112.1,531.9 L1119.0,541.2 L1125.9,549.9 L1132.8,561.6 L1139.7,574.7 L1146.6,586.2 L1153.5,597.7 L1160.4,610.8 L1167.3,618.3 L1174.2,626.8 L1181.1,635.9 L1188.0,646.3 L1194.9,656.2 L1201.8,663.8 L1208.7,667.3 L1215.5,670.3 L1222.4,671.2 L1229.3,673.1 L1236.2,676.0" fill="none" stroke="#ff5252" stroke-width="3.0" stroke-linejoin="round" stroke-linecap="round"/>
<path d="M16.1,609.0 L23.0,611.6 L29.9,613.4 L36.8,614.8 L43.6,615.7 L50.5,615.0 L57.4,613.7 L64.3,613.2 L71.2,614.2 L78.1,615.8 L85.0,618.1 L91.9,618.7 L98.8,619.8 L105.7,621.4 L112.6,623.1 L119.5,624.6 L126.4,627.4 L133.3,630.8 L140.2,634.8 L147.1,636.3 L153.9,637.5 L160.8,639.1 L167.7,641.4 L174.6,643.1 L181.5,643.2 L188.4,642.8 L195.3,642.2 L202.2,643.1 L209.1,642.9 L216.0,642.7 L222.9,643.4 L229.8,644.0 L236.7,643.8 L243.6,644.2 L250.5,644.1 L257.3,643.1 L264.2,640.8 L271.1,638.9 L278.0,637.4 L284.9,635.9 L291.8,634.2 L298.7,632.3 L305.6,628.8 L312.5,625.0 L319.4,621.1 L326.3,617.3 L333.2,613.0 L340.1,606.3 L347.0,598.1 L353.9,593.1 L360.8,589.5 L367.6,585.3 L374.5,581.6 L381.4,577.4 L388.3,574.4 L395.2,571.8 L402.1,569.8 L409.0,569.0 L415.9,569.9 L422.8,571.5 L429.7,572.4 L436.6,571.9 L443.5,572.5 L450.4,572.2 L457.3,570.7 L464.2,569.0 L471.0,566.9 L477.9,564.3 L484.8,563.3 L491.7,559.2 L498.6,553.7 L505.5,549.9 L512.4,547.4 L519.3,544.3 L526.2,541.2 L533.1,539.6 L540.0,539.2 L546.9,536.8 L553.8,535.9 L560.7,531.3 L567.6,526.4 L574.4,521.3 L581.3,519.7 L588.2,516.6 L595.1,512.4 L602.0,506.4 L608.9,502.2 L615.8,498.6 L622.7,495.6 L629.6,493.2 L636.5,488.8 L643.4,484.3 L650.3,481.5 L657.2,478.6 L664.1,476.3 L671.0,473.1 L677.9,468.7 L684.7,463.8 L691.6,458.0 L698.5,451.6 L705.4,443.0 L712.3,434.7 L719.2,427.2 L726.1,420.9 L733.0,414.5 L739.9,406.9 L746.8,399.1 L753.7,393.2 L760.6,387.4 L767.5,382.4 L774.4,380.4 L781.3,379.7 L788.1,379.4 L795.0,382.4 L801.9,383.0 L808.8,384.0 L815.7,383.6 L822.6,382.9 L829.5,382.9 L836.4,380.5 L843.3,376.0 L850.2,372.1 L857.1,369.2 L864.0,366.2 L870.9,362.7 L877.8,361.5 L884.7,358.8 L891.5,357.6 L898.4,362.2 L905.3,368.5 L912.2,371.1 L919.1,371.6 L926.0,373.1 L932.9,376.2 L939.8,380.7 L946.7,385.6 L953.6,389.2 L960.5,392.7 L967.4,395.7 L974.3,399.3 L981.2,403.8 L988.1,406.0 L995.0,407.8 L1001.8,409.5 L1008.7,410.0 L1015.6,410.8 L1022.5,412.3 L1029.4,413.8 L1036.3,416.9 L1043.2,419.4 L1050.1,421.9 L1057.0,424.1 L1063.9,430.1 L1070.8,437.8 L1077.7,443.9 L1084.6,451.0 L1091.5,456.7 L1098.4,462.8 L1105.2,467.4 L1112.1,471.5 L1119.0,477.7 L1125.9,483.8 L1132.8,491.2 L1139.7,499.3 L1146.6,507.0 L1153.5,514.8 L1160.4,523.5 L1167.3,530.0 L1174.2,537.0 L1181.1,544.2 L1188.0,552.1 L1194.9,559.9 L1201.8,566.8 L1208.7,572.1 L1215.5,577.0 L1222.4,581.1 L1229.3,585.3 L1236.2,590.0" fill="none" stroke="#ff9800" stroke-width="3.0" stroke-linejoin="round" stroke-linecap="round"/>
<path d="M16.1,589.4 L23.0,590.3 L29.9,590.9 L36.8,591.5 L43.6,592.0 L50.5,592.0 L57.4,591.9 L64.3,592.0 L71.2,592.5 L78.1,593.1 L85.0,593.9 L91.9,594.3 L98.8,594.8 L105.7,595.5 L112.6,596.1 L119.5,596.8 L126.4,597.8 L133.3,598.9 L140.2,600.3 L147.1,601.0 L153.9,601.6 L160.8,602.4 L167.7,603.4 L174.6,604.2 L181.5,604.6 L188.4,604.9 L195.3,605.1 L202.2,605.7 L209.1,606.0 L216.0,606.3 L222.9,606.9 L229.8,607.4 L236.7,607.7 L243.6,608.2 L250.5,608.5 L257.3,608.6 L264.2,608.3 L271.1,608.2 L278.0,608.1 L284.9,608.0 L291.8,607.9 L298.7,607.6 L305.6,607.0 L312.5,606.2 L319.4,605.4 L326.3,604.6 L333.2,603.7 L340.1,602.1 L347.0,600.0 L353.9,598.7 L360.8,597.7 L367.6,596.6 L374.5,595.6 L381.4,594.4 L388.3,593.4 L395.2,592.6 L402.1,591.9 L409.0,591.4 L415.9,591.4 L422.8,591.6 L429.7,591.7 L436.6,591.3 L443.5,591.3 L450.4,591.0 L457.3,590.5 L464.2,589.8 L471.0,589.1 L477.9,588.2 L484.8,587.7 L491.7,586.4 L498.6,584.8 L505.5,583.5 L512.4,582.5 L519.3,581.4 L526.2,580.2 L533.1,579.4 L540.0,578.9 L546.9,577.9 L553.8,577.3 L560.7,575.7 L567.6,574.0 L574.4,572.3 L581.3,571.3 L588.2,570.1 L595.1,568.5 L602.0,566.4 L608.9,564.7 L615.8,563.2 L622.7,561.8 L629.6,560.5 L636.5,558.7 L643.4,556.9 L650.3,555.4 L657.2,554.0 L664.1,552.6 L671.0,551.1 L677.9,549.2 L684.7,547.1 L691.6,544.8 L698.5,542.3 L705.4,539.2 L712.3,536.2 L719.2,533.3 L726.1,530.6 L733.0,527.9 L739.9,524.9 L746.8,521.7 L753.7,519.0 L760.6,516.3 L767.5,513.7 L774.4,511.9 L781.3,510.4 L788.1,509.0 L795.0,508.5 L801.9,507.4 L808.8,506.4 L815.7,505.1 L822.6,503.7 L829.5,502.5 L836.4,500.7 L843.3,498.4 L850.2,496.2 L857.1,494.2 L864.0,492.2 L870.9,490.0 L877.8,488.5 L884.7,486.5 L891.5,484.9 L898.4,484.8 L905.3,485.2 L912.2,484.7 L919.1,483.7 L926.0,483.0 L932.9,482.7 L939.8,482.8 L946.7,483.0 L953.6,482.9 L960.5,482.9 L967.4,482.7 L974.3,482.8 L981.2,483.1 L988.1,482.9 L995.0,482.6 L1001.8,482.3 L1008.7,481.7 L1015.6,481.2 L1022.5,480.8 L1029.4,480.5 L1036.3,480.6 L1043.2,480.7 L1050.1,480.7 L1057.0,480.7 L1063.9,481.6 L1070.8,483.1 L1077.7,484.1 L1084.6,485.6 L1091.5,486.6 L1098.4,487.9 L1105.2,488.8 L1112.1,489.7 L1119.0,491.0 L1125.9,492.5 L1132.8,494.2 L1139.7,496.3 L1146.6,498.3 L1153.5,500.3 L1160.4,502.7 L1167.3,504.5 L1174.2,506.6 L1181.1,508.7 L1188.0,511.1 L1194.9,513.4 L1201.8,515.7 L1208.7,517.5 L1215.5,519.3 L1222.4,520.9 L1229.3,522.6 L1236.2,524.4" fill="none" stroke="#ffeb3b" stroke-width="3.0" stroke-linejoin="round" stroke-linecap="round"/>
<path d="M16.1,604.4 L23.0,618.5 L29.9,626.5 L36.8,630.9 L43.6,632.3 L50.5,625.6 L57.4,616.6 L64.3,613.3 L71.2,618.5 L78.1,626.0 L85.0,635.4 L91.9,635.2 L98.8,637.4 L105.7,642.1 L112.6,646.8 L119.5,649.9 L126.4,658.8 L133.3,670.1 L140.2,682.5 L147.1,680.7 L153.9,678.0 L160.8,678.0 L167.7,682.2 L174.6,682.5 L181.5,675.2 L188.4,666.9 L195.3,659.0 L202.2,659.9 L209.1,655.7 L216.0,652.4 L222.9,653.8 L229.8,654.7 L236.7,651.9 L243.6,652.4 L250.5,650.2 L257.3,643.7 L264.2,631.9 L271.1,623.8 L278.0,619.4 L284.9,615.3 L291.8,611.0 L298.7,605.9 L305.6,593.1 L312.5,580.8 L319.4,569.7 L326.3,561.0 L333.2,550.2 L340.1,528.6 L347.0,502.1 L353.9,496.0 L360.8,496.9 L367.6,494.1 L374.5,493.8 L381.4,489.8 L388.3,491.8 L395.2,495.0 L402.1,500.6 L409.0,510.3 L415.9,526.6 L422.8,543.4 L429.7,553.8 L436.6,554.9 L443.5,561.1 L450.4,562.1 L457.3,556.5 L464.2,550.8 L471.0,543.5 L477.9,534.9 L484.8,535.7 L491.7,520.6 L498.6,499.9 L505.5,491.2 L512.4,490.5 L519.3,486.3 L526.2,481.7 L533.1,485.5 L540.0,494.6 L546.9,491.2 L553.8,495.4 L560.7,480.5 L567.6,465.4 L574.4,451.7 L581.3,457.5 L588.2,454.3 L595.1,445.3 L602.0,427.9 L608.9,422.4 L615.8,420.2 L622.7,420.2 L629.6,423.5 L636.5,414.7 L643.4,406.5 L650.3,407.7 L657.2,407.6 L664.1,410.6 L671.0,407.3 L677.9,397.8 L684.7,387.3 L691.6,373.0 L698.5,357.1 L705.4,332.2 L712.3,312.0 L719.2,298.3 L726.1,292.3 L733.0,285.2 L739.9,272.3 L746.8,259.6 L753.7,257.4 L760.6,254.9 L767.5,255.9 L774.4,270.8 L781.3,289.5 L788.1,305.8 L795.0,335.9 L801.9,348.5 L808.8,360.3 L815.7,362.9 L822.6,363.4 L829.5,367.6 L836.4,358.6 L843.3,340.0 L850.2,327.0 L857.1,321.3 L864.0,315.8 L870.9,308.0 L877.8,313.0 L884.7,308.6 L891.5,312.5 L898.4,344.9 L905.3,380.7 L912.2,391.7 L919.1,389.8 L926.0,394.2 L932.9,405.6 L939.8,422.8 L946.7,439.1 L953.6,447.1 L960.5,453.2 L967.4,456.4 L974.3,462.7 L981.2,472.8 L988.1,470.5 L995.0,466.7 L1001.8,463.5 L1008.7,455.5 L1015.6,450.3 L1022.5,450.1 L1029.4,450.1 L1036.3,458.6 L1043.2,463.2 L1050.1,467.5 L1057.0,469.5 L1063.9,491.0 L1070.8,518.1 L1077.7,532.9 L1084.6,551.4 L1091.5,560.3 L1098.4,570.7 L1105.2,573.0 L1112.1,572.5 L1119.0,583.8 L1125.9,593.7 L1132.8,609.5 L1139.7,627.4 L1146.6,641.0 L1153.5,654.2 L1160.4,670.4 L1167.3,674.4 L1174.2,681.0 L1181.1,689.3 L1188.0,700.5 L1194.9,710.4 L1201.8,715.7 L1208.7,712.7 L1215.5,709.9 L1222.4,703.9 L1229.3,701.2 L1236.2,701.8" fill="none" stroke="#4caf50" stroke-width="3.0" stroke-linejoin="round" stroke-linecap="round"/>
<path d="M16.1,613.7 L23.0,614.0 L29.9,614.3 L36.8,614.5 L43.6,614.6 L50.5,614.5 L57.4,614.3 L64.3,614.2 L71.2,614.4 L78.1,614.6 L85.0,614.9 L91.9,615.0 L98.8,615.2 L105.7,615.4 L112.6,615.7 L119.5,615.9 L126.4,616.4 L133.3,616.9 L140.2,617.5 L147.1,617.8 L153.9,618.1 L160.8,618.4 L167.7,618.9 L174.6,619.2 L181.5,619.4 L188.4,619.4 L195.3,619.5 L202.2,619.7 L209.1,619.8 L216.0,619.9 L222.9,620.1 L229.8,620.3 L236.7,620.4 L243.6,620.6 L250.5,620.7 L257.3,620.7 L264.2,620.5 L271.1,620.3 L278.0,620.2 L284.9,620.1 L291.8,620.0 L298.7,619.8 L305.6,619.4 L312.5,618.9 L319.4,618.4 L326.3,617.9 L333.2,617.2 L340.1,616.3 L347.0,615.1 L353.9,614.3 L360.8,613.7 L367.6,612.9 L374.5,612.3 L381.4,611.5 L388.3,610.9 L395.2,610.3 L402.1,609.9 L409.0,609.5 L415.9,609.4 L422.8,609.4 L429.7,609.4 L436.6,609.1 L443.5,608.9 L450.4,608.7 L457.3,608.3 L464.2,607.9 L471.0,607.3 L477.9,606.8 L484.8,606.4 L491.7,605.6 L498.6,604.6 L505.5,603.7 L512.4,603.1 L519.3,602.4 L526.2,601.6 L533.1,601.0 L540.0,600.7 L546.9,600.0 L553.8,599.5 L560.7,598.5 L567.6,597.5 L574.4,596.4 L581.3,595.7 L588.2,594.9 L595.1,593.9 L602.0,592.6 L608.9,591.5 L615.8,590.5 L622.7,589.6 L629.6,588.8 L636.5,587.6 L643.4,586.4 L650.3,585.5 L657.2,584.5 L664.1,583.6 L671.0,582.6 L677.9,581.4 L684.7,580.1 L691.6,578.6 L698.5,577.1 L705.4,575.2 L712.3,573.3 L719.2,571.5 L726.1,569.8 L733.0,568.1 L739.9,566.2 L746.8,564.3 L753.7,562.5 L760.6,560.8 L767.5,559.1 L774.4,557.9 L781.3,556.8 L788.1,555.8 L795.0,555.3 L801.9,554.4 L808.8,553.6 L815.7,552.6 L822.6,551.6 L829.5,550.7 L836.4,549.4 L843.3,547.9 L850.2,546.4 L857.1,545.0 L864.0,543.6 L870.9,542.2 L877.8,541.0 L884.7,539.7 L891.5,538.5 L898.4,538.2 L905.3,538.1 L912.2,537.5 L919.1,536.7 L926.0,536.0 L932.9,535.5 L939.8,535.3 L946.7,535.1 L953.6,534.8 L960.5,534.5 L967.4,534.1 L974.3,533.9 L981.2,533.7 L988.1,533.3 L995.0,532.9 L1001.8,532.4 L1008.7,531.8 L1015.6,531.3 L1022.5,530.8 L1029.4,530.4 L1036.3,530.2 L1043.2,529.9 L1050.1,529.7 L1057.0,529.4 L1063.9,529.6 L1070.8,530.1 L1077.7,530.5 L1084.6,531.0 L1091.5,531.4 L1098.4,531.8 L1105.2,532.1 L1112.1,532.3 L1119.0,532.8 L1125.9,533.3 L1132.8,534.1 L1139.7,535.0 L1146.6,535.9 L1153.5,536.8 L1160.4,537.9 L1167.3,538.7 L1174.2,539.6 L1181.1,540.6 L1188.0,541.7 L1194.9,542.9 L1201.8,543.9 L1208.7,544.8 L1215.5,545.6 L1222.4,546.4 L1229.3,547.1 L1236.2,548.0" fill="none" stroke="#2962ff" stroke-width="4.8" stroke-linejoin="round" stroke-linecap="round"/>
<rect x="15.48" y="616.4" width="1.2" height="18.7" fill="#ef5350"/>
<rect x="13.13" y="626.3" width="5.9" height="8.7" fill="#ef5350"/>
<rect x="22.37" y="627.8" width="1.2" height="59.1" fill="#ef5350"/>
<rect x="20.02" y="634.0" width="5.9" height="41.1" fill="#ef5350"/>
<rect x="29.26" y="638.2" width="1.2" height="37.3" fill="#26a69a"/>
<rect x="26.91" y="658.3" width="5.9" height="17.2" fill="#26a69a"/>
<rect x="36.16" y="636.1" width="1.2" height="27.0" fill="#26a69a"/>
<rect x="33.81" y="648.5" width="5.9" height="10.4" fill="#26a69a"/>
<rect x="43.05" y="626.3" width="1.2" height="31.5" fill="#26a69a"/>
<rect x="40.70" y="638.2" width="5.9" height="11.0" fill="#26a69a"/>
<rect x="49.94" y="596.1" width="1.2" height="53.9" fill="#26a69a"/>
<rect x="47.59" y="598.8" width="5.9" height="40.0" fill="#26a69a"/>
<rect x="56.84" y="578.6" width="1.2" height="39.8" fill="#26a69a"/>
<rect x="54.49" y="580.7" width="5.9" height="18.5" fill="#26a69a"/>
<rect x="63.73" y="566.6" width="1.2" height="37.8" fill="#ef5350"/>
<rect x="61.38" y="581.1" width="5.9" height="19.1" fill="#ef5350"/>
<rect x="70.62" y="597.7" width="1.2" height="41.5" fill="#ef5350"/>
<rect x="68.27" y="599.2" width="5.9" height="40.0" fill="#ef5350"/>
<rect x="77.52" y="638.2" width="1.2" height="52.5" fill="#ef5350"/>
<rect x="75.17" y="638.8" width="5.9" height="17.0" fill="#ef5350"/>
<rect x="84.41" y="654.8" width="1.2" height="30.1" fill="#ef5350"/>
<rect x="82.06" y="655.4" width="5.9" height="18.0" fill="#ef5350"/>
<rect x="91.30" y="633.0" width="1.2" height="42.1" fill="#26a69a"/>
<rect x="88.95" y="634.0" width="5.9" height="40.0" fill="#26a69a"/>
<rect x="98.20" y="609.1" width="1.2" height="38.0" fill="#ef5350"/>
<rect x="95.85" y="635.5" width="5.9" height="11.0" fill="#ef5350"/>
<rect x="105.09" y="629.3" width="1.2" height="39.4" fill="#ef5350"/>
<rect x="102.74" y="645.9" width="5.9" height="15.1" fill="#ef5350"/>
<rect x="111.98" y="651.2" width="1.2" height="24.9" fill="#ef5350"/>
<rect x="109.63" y="660.0" width="5.9" height="5.8" fill="#ef5350"/>
<rect x="118.88" y="658.3" width="1.2" height="22.4" fill="#26a69a"/>
<rect x="116.53" y="662.0" width="5.9" height="3.5" fill="#26a69a"/>
<rect x="125.77" y="655.2" width="1.2" height="58.3" fill="#ef5350"/>
<rect x="123.42" y="662.0" width="5.9" height="32.6" fill="#ef5350"/>
<rect x="132.66" y="682.8" width="1.2" height="51.9" fill="#ef5350"/>
<rect x="130.31" y="693.6" width="5.9" height="21.8" fill="#ef5350"/>
<rect x="139.56" y="703.9" width="1.2" height="52.1" fill="#ef5350"/>
<rect x="137.21" y="713.3" width="5.9" height="18.7" fill="#ef5350"/>
<rect x="146.45" y="662.0" width="1.2" height="73.7" fill="#26a69a"/>
<rect x="144.10" y="673.9" width="5.9" height="58.7" fill="#26a69a"/>
<rect x="153.35" y="663.7" width="1.2" height="19.5" fill="#26a69a"/>
<rect x="151.00" y="667.2" width="5.9" height="6.8" fill="#26a69a"/>
<rect x="160.24" y="661.0" width="1.2" height="22.4" fill="#ef5350"/>
<rect x="157.89" y="667.2" width="5.9" height="10.8" fill="#ef5350"/>
<rect x="167.13" y="658.3" width="1.2" height="41.5" fill="#ef5350"/>
<rect x="164.78" y="678.0" width="5.9" height="21.4" fill="#ef5350"/>
<rect x="174.03" y="672.8" width="1.2" height="33.8" fill="#26a69a"/>
<rect x="171.68" y="683.8" width="5.9" height="15.1" fill="#26a69a"/>
<rect x="180.92" y="637.1" width="1.2" height="50.8" fill="#26a69a"/>
<rect x="178.57" y="645.9" width="5.9" height="39.0" fill="#26a69a"/>
<rect x="187.81" y="627.8" width="1.2" height="23.9" fill="#26a69a"/>
<rect x="185.46" y="634.0" width="5.9" height="12.4" fill="#26a69a"/>
<rect x="194.71" y="603.5" width="1.2" height="48.1" fill="#26a69a"/>
<rect x="192.36" y="627.2" width="5.9" height="7.9" fill="#26a69a"/>
<rect x="201.60" y="623.7" width="1.2" height="48.3" fill="#ef5350"/>
<rect x="199.25" y="626.8" width="5.9" height="36.9" fill="#ef5350"/>
<rect x="208.49" y="628.8" width="1.2" height="38.4" fill="#26a69a"/>
<rect x="206.14" y="638.8" width="5.9" height="24.9" fill="#26a69a"/>
<rect x="215.39" y="619.5" width="1.2" height="29.7" fill="#ef5350"/>
<rect x="213.04" y="637.6" width="5.9" height="2.1" fill="#ef5350"/>
<rect x="222.28" y="631.5" width="1.2" height="38.4" fill="#ef5350"/>
<rect x="219.93" y="638.2" width="5.9" height="21.4" fill="#ef5350"/>
<rect x="229.17" y="654.8" width="1.2" height="12.4" fill="#ef5350"/>
<rect x="226.82" y="656.4" width="5.9" height="1.9" fill="#ef5350"/>
<rect x="236.07" y="631.5" width="1.2" height="32.2" fill="#26a69a"/>
<rect x="233.72" y="640.7" width="5.9" height="20.3" fill="#26a69a"/>
<rect x="242.96" y="633.3" width="1.2" height="25.6" fill="#ef5350"/>
<rect x="240.61" y="641.4" width="5.9" height="13.2" fill="#ef5350"/>
<rect x="249.85" y="636.1" width="1.2" height="22.2" fill="#26a69a"/>
<rect x="247.50" y="641.8" width="5.9" height="12.8" fill="#26a69a"/>
<rect x="256.75" y="613.1" width="1.2" height="33.9" fill="#26a69a"/>
<rect x="254.40" y="617.8" width="5.9" height="26.4" fill="#26a69a"/>
<rect x="263.64" y="580.1" width="1.2" height="41.5" fill="#26a69a"/>
<rect x="261.29" y="584.8" width="5.9" height="32.0" fill="#26a69a"/>
<rect x="270.53" y="567.5" width="1.2" height="38.1" fill="#ef5350"/>
<rect x="268.19" y="584.8" width="5.9" height="6.6" fill="#ef5350"/>
<rect x="277.43" y="586.7" width="1.2" height="27.3" fill="#ef5350"/>
<rect x="275.08" y="591.0" width="5.9" height="10.7" fill="#ef5350"/>
<rect x="284.32" y="585.2" width="1.2" height="19.8" fill="#26a69a"/>
<rect x="281.97" y="599.0" width="5.9" height="2.8" fill="#26a69a"/>
<rect x="291.22" y="565.4" width="1.2" height="35.4" fill="#26a69a"/>
<rect x="288.87" y="594.3" width="5.9" height="5.1" fill="#26a69a"/>
<rect x="298.11" y="584.4" width="1.2" height="32.4" fill="#26a69a"/>
<rect x="295.76" y="585.8" width="5.9" height="9.0" fill="#26a69a"/>
<rect x="305.00" y="530.8" width="1.2" height="62.2" fill="#26a69a"/>
<rect x="302.65" y="542.1" width="5.9" height="45.8" fill="#26a69a"/>
<rect x="311.90" y="521.9" width="1.2" height="41.8" fill="#26a69a"/>
<rect x="309.55" y="531.7" width="5.9" height="10.4" fill="#26a69a"/>
<rect x="318.79" y="492.7" width="1.2" height="50.3" fill="#26a69a"/>
<rect x="316.44" y="525.5" width="5.9" height="6.8" fill="#26a69a"/>
<rect x="325.68" y="519.9" width="1.2" height="20.0" fill="#ef5350"/>
<rect x="323.33" y="525.1" width="5.9" height="1.2" fill="#ef5350"/>
<rect x="332.58" y="497.2" width="1.2" height="32.2" fill="#26a69a"/>
<rect x="330.23" y="507.2" width="5.9" height="19.8" fill="#26a69a"/>
<rect x="339.47" y="426.7" width="1.2" height="93.7" fill="#26a69a"/>
<rect x="337.12" y="442.2" width="5.9" height="66.0" fill="#26a69a"/>
<rect x="346.36" y="395.1" width="1.2" height="55.6" fill="#26a69a"/>
<rect x="344.01" y="396.6" width="5.9" height="46.2" fill="#26a69a"/>
<rect x="353.26" y="397.3" width="1.2" height="98.0" fill="#ef5350"/>
<rect x="350.91" y="397.3" width="5.9" height="74.1" fill="#ef5350"/>
<rect x="360.15" y="460.1" width="1.2" height="56.0" fill="#ef5350"/>
<rect x="357.80" y="471.4" width="5.9" height="29.6" fill="#ef5350"/>
<rect x="367.04" y="483.1" width="1.2" height="49.2" fill="#26a69a"/>
<rect x="364.69" y="483.1" width="5.9" height="17.9" fill="#26a69a"/>
<rect x="373.94" y="469.2" width="1.2" height="23.9" fill="#ef5350"/>
<rect x="371.59" y="483.3" width="5.9" height="9.2" fill="#ef5350"/>
<rect x="380.83" y="465.8" width="1.2" height="26.8" fill="#26a69a"/>
<rect x="378.48" y="474.3" width="5.9" height="17.9" fill="#26a69a"/>
<rect x="387.72" y="445.0" width="1.2" height="58.4" fill="#ef5350"/>
<rect x="385.37" y="474.3" width="5.9" height="25.8" fill="#ef5350"/>
<rect x="394.62" y="484.2" width="1.2" height="37.1" fill="#ef5350"/>
<rect x="392.27" y="500.6" width="5.9" height="7.2" fill="#ef5350"/>
<rect x="401.51" y="502.5" width="1.2" height="54.3" fill="#ef5350"/>
<rect x="399.16" y="507.2" width="5.9" height="16.0" fill="#ef5350"/>
<rect x="408.40" y="502.1" width="1.2" height="49.4" fill="#ef5350"/>
<rect x="406.06" y="523.3" width="5.9" height="25.8" fill="#ef5350"/>
<rect x="415.30" y="549.4" width="1.2" height="57.1" fill="#ef5350"/>
<rect x="412.95" y="549.4" width="5.9" height="43.0" fill="#ef5350"/>
<rect x="422.19" y="580.1" width="1.2" height="41.5" fill="#ef5350"/>
<rect x="419.84" y="592.4" width="5.9" height="18.5" fill="#ef5350"/>
<rect x="429.09" y="590.1" width="1.2" height="30.5" fill="#26a69a"/>
<rect x="426.74" y="595.2" width="5.9" height="16.0" fill="#26a69a"/>
<rect x="435.98" y="559.1" width="1.2" height="38.6" fill="#26a69a"/>
<rect x="433.63" y="559.9" width="5.9" height="34.9" fill="#26a69a"/>
<rect x="442.87" y="550.1" width="1.2" height="47.7" fill="#ef5350"/>
<rect x="440.52" y="560.4" width="5.9" height="25.4" fill="#ef5350"/>
<rect x="449.77" y="558.5" width="1.2" height="39.2" fill="#26a69a"/>
<rect x="447.42" y="566.7" width="5.9" height="19.2" fill="#26a69a"/>
<rect x="456.66" y="534.0" width="1.2" height="38.6" fill="#26a69a"/>
<rect x="454.31" y="534.0" width="5.9" height="33.9" fill="#26a69a"/>
<rect x="463.55" y="514.8" width="1.2" height="27.7" fill="#26a69a"/>
<rect x="461.20" y="528.4" width="5.9" height="6.6" fill="#26a69a"/>
<rect x="470.45" y="498.2" width="1.2" height="30.5" fill="#26a69a"/>
<rect x="468.10" y="514.3" width="5.9" height="14.5" fill="#26a69a"/>
<rect x="477.34" y="485.6" width="1.2" height="39.4" fill="#26a69a"/>
<rect x="474.99" y="501.1" width="5.9" height="12.6" fill="#26a69a"/>
<rect x="484.23" y="482.8" width="1.2" height="60.1" fill="#ef5350"/>
<rect x="481.88" y="502.0" width="5.9" height="36.8" fill="#ef5350"/>
<rect x="491.13" y="451.7" width="1.2" height="89.9" fill="#26a69a"/>
<rect x="488.78" y="460.8" width="5.9" height="77.7" fill="#26a69a"/>
<rect x="498.02" y="401.8" width="1.2" height="59.9" fill="#26a69a"/>
<rect x="495.67" y="417.2" width="5.9" height="44.5" fill="#26a69a"/>
<rect x="504.91" y="380.1" width="1.2" height="100.8" fill="#ef5350"/>
<rect x="502.56" y="417.2" width="5.9" height="39.6" fill="#ef5350"/>
<rect x="511.81" y="432.0" width="1.2" height="65.0" fill="#ef5350"/>
<rect x="509.46" y="456.8" width="5.9" height="31.1" fill="#ef5350"/>
<rect x="518.70" y="467.8" width="1.2" height="21.3" fill="#26a69a"/>
<rect x="516.35" y="469.7" width="5.9" height="18.3" fill="#26a69a"/>
<rect x="525.59" y="442.3" width="1.2" height="36.8" fill="#26a69a"/>
<rect x="523.24" y="463.6" width="5.9" height="7.0" fill="#26a69a"/>
<rect x="532.49" y="462.4" width="1.2" height="50.3" fill="#ef5350"/>
<rect x="530.14" y="463.4" width="5.9" height="37.3" fill="#ef5350"/>
<rect x="539.38" y="486.9" width="1.2" height="45.6" fill="#ef5350"/>
<rect x="537.03" y="500.1" width="5.9" height="31.1" fill="#ef5350"/>
<rect x="546.27" y="477.9" width="1.2" height="53.0" fill="#26a69a"/>
<rect x="543.92" y="477.9" width="5.9" height="53.0" fill="#26a69a"/>
<rect x="553.17" y="468.1" width="1.2" height="47.5" fill="#ef5350"/>
<rect x="550.82" y="477.9" width="5.9" height="34.9" fill="#ef5350"/>
<rect x="560.06" y="413.1" width="1.2" height="112.5" fill="#26a69a"/>
<rect x="557.71" y="421.0" width="5.9" height="91.8" fill="#26a69a"/>
<rect x="566.96" y="385.4" width="1.2" height="58.8" fill="#26a69a"/>
<rect x="564.61" y="405.2" width="5.9" height="15.5" fill="#26a69a"/>
<rect x="573.85" y="369.7" width="1.2" height="47.5" fill="#26a69a"/>
<rect x="571.50" y="397.1" width="5.9" height="8.5" fill="#26a69a"/>
<rect x="580.74" y="362.8" width="1.2" height="125.7" fill="#ef5350"/>
<rect x="578.39" y="397.1" width="5.9" height="83.9" fill="#ef5350"/>
<rect x="587.64" y="432.5" width="1.2" height="55.0" fill="#26a69a"/>
<rect x="585.29" y="441.8" width="5.9" height="40.7" fill="#26a69a"/>
<rect x="594.53" y="369.2" width="1.2" height="81.6" fill="#26a69a"/>
<rect x="592.18" y="409.7" width="5.9" height="33.0" fill="#26a69a"/>
<rect x="601.42" y="348.1" width="1.2" height="66.9" fill="#26a69a"/>
<rect x="599.07" y="358.4" width="5.9" height="52.4" fill="#26a69a"/>
<rect x="608.32" y="341.8" width="1.2" height="80.7" fill="#ef5350"/>
<rect x="605.97" y="358.4" width="5.9" height="42.4" fill="#ef5350"/>
<rect x="615.21" y="392.0" width="1.2" height="41.8" fill="#ef5350"/>
<rect x="612.86" y="400.5" width="5.9" height="11.3" fill="#ef5350"/>
<rect x="622.10" y="393.3" width="1.2" height="27.3" fill="#ef5350"/>
<rect x="619.75" y="411.2" width="5.9" height="9.4" fill="#ef5350"/>
<rect x="629.00" y="403.1" width="1.2" height="46.7" fill="#ef5350"/>
<rect x="626.65" y="420.6" width="5.9" height="16.0" fill="#ef5350"/>
<rect x="635.89" y="380.1" width="1.2" height="57.5" fill="#26a69a"/>
<rect x="633.54" y="380.1" width="5.9" height="56.6" fill="#26a69a"/>
<rect x="642.78" y="365.0" width="1.2" height="24.5" fill="#26a69a"/>
<rect x="640.43" y="374.1" width="5.9" height="6.0" fill="#26a69a"/>
<rect x="649.68" y="369.2" width="1.2" height="45.8" fill="#ef5350"/>
<rect x="647.33" y="374.1" width="5.9" height="38.5" fill="#ef5350"/>
<rect x="656.57" y="377.7" width="1.2" height="41.1" fill="#26a69a"/>
<rect x="654.22" y="407.8" width="5.9" height="4.7" fill="#26a69a"/>
<rect x="663.46" y="403.3" width="1.2" height="22.6" fill="#ef5350"/>
<rect x="661.11" y="408.8" width="5.9" height="13.8" fill="#ef5350"/>
<rect x="670.36" y="387.7" width="1.2" height="34.9" fill="#26a69a"/>
<rect x="668.01" y="394.8" width="5.9" height="27.7" fill="#26a69a"/>
<rect x="677.25" y="346.2" width="1.2" height="53.7" fill="#26a69a"/>
<rect x="674.90" y="359.9" width="5.9" height="35.2" fill="#26a69a"/>
<rect x="684.14" y="335.3" width="1.2" height="30.7" fill="#26a69a"/>
<rect x="681.79" y="345.7" width="5.9" height="14.7" fill="#26a69a"/>
<rect x="691.04" y="306.7" width="1.2" height="48.1" fill="#26a69a"/>
<rect x="688.69" y="316.1" width="5.9" height="30.2" fill="#26a69a"/>
<rect x="697.93" y="292.5" width="1.2" height="32.4" fill="#26a69a"/>
<rect x="695.58" y="293.8" width="5.9" height="21.9" fill="#26a69a"/>
<rect x="704.83" y="224.7" width="1.2" height="71.6" fill="#26a69a"/>
<rect x="702.48" y="232.8" width="5.9" height="60.7" fill="#26a69a"/>
<rect x="711.72" y="222.8" width="1.2" height="37.7" fill="#26a69a"/>
<rect x="709.37" y="231.6" width="5.9" height="1.2" fill="#26a69a"/>
<rect x="718.61" y="199.8" width="1.2" height="45.2" fill="#ef5350"/>
<rect x="716.26" y="232.2" width="5.9" height="11.9" fill="#ef5350"/>
<rect x="725.51" y="224.3" width="1.2" height="62.2" fill="#ef5350"/>
<rect x="723.16" y="244.1" width="5.9" height="24.5" fill="#ef5350"/>
<rect x="732.40" y="239.4" width="1.2" height="41.8" fill="#26a69a"/>
<rect x="730.05" y="257.1" width="5.9" height="11.5" fill="#26a69a"/>
<rect x="739.29" y="213.0" width="1.2" height="63.5" fill="#26a69a"/>
<rect x="736.94" y="221.3" width="5.9" height="36.4" fill="#26a69a"/>
<rect x="746.19" y="181.3" width="1.2" height="49.0" fill="#26a69a"/>
<rect x="743.84" y="209.0" width="5.9" height="12.8" fill="#26a69a"/>
<rect x="753.08" y="204.9" width="1.2" height="58.4" fill="#ef5350"/>
<rect x="750.73" y="208.3" width="5.9" height="40.9" fill="#ef5350"/>
<rect x="759.97" y="236.9" width="1.2" height="18.9" fill="#26a69a"/>
<rect x="757.62" y="245.0" width="5.9" height="5.1" fill="#26a69a"/>
<rect x="766.87" y="235.0" width="1.2" height="27.7" fill="#ef5350"/>
<rect x="764.52" y="245.0" width="5.9" height="15.1" fill="#ef5350"/>
<rect x="773.76" y="257.1" width="1.2" height="102.0" fill="#ef5350"/>
<rect x="771.41" y="260.1" width="5.9" height="71.1" fill="#ef5350"/>
<rect x="780.65" y="325.1" width="1.2" height="41.8" fill="#ef5350"/>
<rect x="778.30" y="331.1" width="5.9" height="33.6" fill="#ef5350"/>
<rect x="787.55" y="349.4" width="1.2" height="50.9" fill="#ef5350"/>
<rect x="785.20" y="363.5" width="5.9" height="7.7" fill="#ef5350"/>
<rect x="794.44" y="366.9" width="1.2" height="95.2" fill="#ef5350"/>
<rect x="792.09" y="370.1" width="5.9" height="86.3" fill="#ef5350"/>
<rect x="801.33" y="398.0" width="1.2" height="65.6" fill="#26a69a"/>
<rect x="798.98" y="399.5" width="5.9" height="56.9" fill="#26a69a"/>
<rect x="808.23" y="398.0" width="1.2" height="24.5" fill="#ef5350"/>
<rect x="805.88" y="399.9" width="5.9" height="7.9" fill="#ef5350"/>
<rect x="815.12" y="373.1" width="1.2" height="58.4" fill="#26a69a"/>
<rect x="812.77" y="373.9" width="5.9" height="33.6" fill="#26a69a"/>
<rect x="822.01" y="356.2" width="1.2" height="45.6" fill="#26a69a"/>
<rect x="819.66" y="365.6" width="5.9" height="9.2" fill="#26a69a"/>
<rect x="828.91" y="361.3" width="1.2" height="42.4" fill="#ef5350"/>
<rect x="826.56" y="366.0" width="5.9" height="18.9" fill="#ef5350"/>
<rect x="835.80" y="320.7" width="1.2" height="74.1" fill="#26a69a"/>
<rect x="833.45" y="323.0" width="5.9" height="61.5" fill="#26a69a"/>
<rect x="842.70" y="264.9" width="1.2" height="70.1" fill="#26a69a"/>
<rect x="840.35" y="265.8" width="5.9" height="57.1" fill="#26a69a"/>
<rect x="849.59" y="256.8" width="1.2" height="43.4" fill="#ef5350"/>
<rect x="847.24" y="267.3" width="5.9" height="8.3" fill="#ef5350"/>
<rect x="856.48" y="270.0" width="1.2" height="43.5" fill="#ef5350"/>
<rect x="854.13" y="275.2" width="5.9" height="23.6" fill="#ef5350"/>
<rect x="863.38" y="256.0" width="1.2" height="47.9" fill="#26a69a"/>
<rect x="861.03" y="294.5" width="5.9" height="4.3" fill="#26a69a"/>
<rect x="870.27" y="253.0" width="1.2" height="45.8" fill="#26a69a"/>
<rect x="867.92" y="277.1" width="5.9" height="17.9" fill="#26a69a"/>
<rect x="877.16" y="264.5" width="1.2" height="68.8" fill="#ef5350"/>
<rect x="874.81" y="277.1" width="5.9" height="56.2" fill="#ef5350"/>
<rect x="884.06" y="289.4" width="1.2" height="54.7" fill="#26a69a"/>
<rect x="881.71" y="291.6" width="5.9" height="41.7" fill="#26a69a"/>
<rect x="890.95" y="290.3" width="1.2" height="56.6" fill="#ef5350"/>
<rect x="888.60" y="292.2" width="5.9" height="36.4" fill="#ef5350"/>
<rect x="897.84" y="314.0" width="1.2" height="242.8" fill="#ef5350"/>
<rect x="895.49" y="328.5" width="5.9" height="146.3" fill="#ef5350"/>
<rect x="904.74" y="462.9" width="1.2" height="82.9" fill="#ef5350"/>
<rect x="902.39" y="476.1" width="5.9" height="48.1" fill="#ef5350"/>
<rect x="911.63" y="428.1" width="1.2" height="115.9" fill="#26a69a"/>
<rect x="909.28" y="436.0" width="5.9" height="88.2" fill="#26a69a"/>
<rect x="918.52" y="380.0" width="1.2" height="86.7" fill="#26a69a"/>
<rect x="916.17" y="382.8" width="5.9" height="53.7" fill="#26a69a"/>
<rect x="925.42" y="374.3" width="1.2" height="87.7" fill="#ef5350"/>
<rect x="923.07" y="382.8" width="5.9" height="29.6" fill="#ef5350"/>
<rect x="932.31" y="383.8" width="1.2" height="74.5" fill="#ef5350"/>
<rect x="929.96" y="411.7" width="5.9" height="40.0" fill="#ef5350"/>
<rect x="939.20" y="430.9" width="1.2" height="72.6" fill="#ef5350"/>
<rect x="936.85" y="450.1" width="5.9" height="42.0" fill="#ef5350"/>
<rect x="946.10" y="479.3" width="1.2" height="59.6" fill="#ef5350"/>
<rect x="943.75" y="492.2" width="5.9" height="12.6" fill="#ef5350"/>
<rect x="952.99" y="476.1" width="1.2" height="28.7" fill="#26a69a"/>
<rect x="950.64" y="479.3" width="5.9" height="25.4" fill="#26a69a"/>
<rect x="959.89" y="457.9" width="1.2" height="40.9" fill="#26a69a"/>
<rect x="957.54" y="478.0" width="5.9" height="1.5" fill="#26a69a"/>
<rect x="966.78" y="447.9" width="1.2" height="47.7" fill="#26a69a"/>
<rect x="964.43" y="469.5" width="5.9" height="9.4" fill="#26a69a"/>
<rect x="973.67" y="433.7" width="1.2" height="66.9" fill="#ef5350"/>
<rect x="971.32" y="469.5" width="5.9" height="19.2" fill="#ef5350"/>
<rect x="980.57" y="479.3" width="1.2" height="47.7" fill="#ef5350"/>
<rect x="978.22" y="488.0" width="5.9" height="25.4" fill="#ef5350"/>
<rect x="987.46" y="453.1" width="1.2" height="61.1" fill="#26a69a"/>
<rect x="985.11" y="462.0" width="5.9" height="52.2" fill="#26a69a"/>
<rect x="994.35" y="441.6" width="1.2" height="32.0" fill="#26a69a"/>
<rect x="992.00" y="452.0" width="5.9" height="10.9" fill="#26a69a"/>
<rect x="1001.25" y="444.1" width="1.2" height="15.1" fill="#26a69a"/>
<rect x="998.90" y="451.3" width="5.9" height="1.2" fill="#26a69a"/>
<rect x="1008.14" y="408.8" width="1.2" height="50.7" fill="#26a69a"/>
<rect x="1005.79" y="423.9" width="5.9" height="28.3" fill="#26a69a"/>
<rect x="1015.03" y="399.4" width="1.2" height="35.8" fill="#ef5350"/>
<rect x="1012.68" y="424.7" width="5.9" height="5.3" fill="#ef5350"/>
<rect x="1021.93" y="406.0" width="1.2" height="60.7" fill="#ef5350"/>
<rect x="1019.58" y="429.6" width="5.9" height="20.2" fill="#ef5350"/>
<rect x="1028.82" y="415.8" width="1.2" height="53.2" fill="#ef5350"/>
<rect x="1026.47" y="449.4" width="5.9" height="1.3" fill="#ef5350"/>
<rect x="1035.71" y="431.3" width="1.2" height="87.8" fill="#ef5350"/>
<rect x="1033.36" y="450.7" width="5.9" height="42.4" fill="#ef5350"/>
<rect x="1042.61" y="468.6" width="1.2" height="27.9" fill="#26a69a"/>
<rect x="1040.26" y="481.8" width="5.9" height="10.9" fill="#26a69a"/>
<rect x="1049.50" y="479.9" width="1.2" height="16.4" fill="#ef5350"/>
<rect x="1047.15" y="481.8" width="5.9" height="3.4" fill="#ef5350"/>
<rect x="1056.39" y="476.1" width="1.2" height="27.9" fill="#26a69a"/>
<rect x="1054.04" y="478.0" width="5.9" height="7.5" fill="#26a69a"/>
<rect x="1063.29" y="473.0" width="1.2" height="115.9" fill="#ef5350"/>
<rect x="1060.94" y="479.3" width="5.9" height="98.4" fill="#ef5350"/>
<rect x="1070.18" y="566.3" width="1.2" height="101.4" fill="#ef5350"/>
<rect x="1067.83" y="577.3" width="5.9" height="49.8" fill="#ef5350"/>
<rect x="1077.07" y="587.1" width="1.2" height="74.1" fill="#26a69a"/>
<rect x="1074.72" y="592.7" width="5.9" height="33.4" fill="#26a69a"/>
<rect x="1083.97" y="590.8" width="1.2" height="41.8" fill="#ef5350"/>
<rect x="1081.62" y="592.7" width="5.9" height="33.0" fill="#ef5350"/>
<rect x="1090.86" y="584.3" width="1.2" height="66.0" fill="#26a69a"/>
<rect x="1088.51" y="596.5" width="5.9" height="29.6" fill="#26a69a"/>
<rect x="1097.76" y="582.4" width="1.2" height="39.6" fill="#ef5350"/>
<rect x="1095.40" y="595.9" width="5.9" height="17.0" fill="#ef5350"/>
<rect x="1104.65" y="574.8" width="1.2" height="50.9" fill="#26a69a"/>
<rect x="1102.30" y="582.7" width="5.9" height="30.7" fill="#26a69a"/>
<rect x="1111.54" y="556.9" width="1.2" height="31.1" fill="#26a69a"/>
<rect x="1109.19" y="571.1" width="5.9" height="13.2" fill="#26a69a"/>
<rect x="1118.44" y="550.3" width="1.2" height="80.7" fill="#ef5350"/>
<rect x="1116.09" y="571.1" width="5.9" height="58.4" fill="#ef5350"/>
<rect x="1125.33" y="600.0" width="1.2" height="43.4" fill="#ef5350"/>
<rect x="1122.98" y="628.3" width="5.9" height="5.7" fill="#ef5350"/>
<rect x="1132.22" y="617.3" width="1.2" height="71.3" fill="#ef5350"/>
<rect x="1129.87" y="633.6" width="5.9" height="39.6" fill="#ef5350"/>
<rect x="1139.12" y="669.4" width="1.2" height="43.4" fill="#ef5350"/>
<rect x="1136.77" y="674.1" width="5.9" height="25.4" fill="#ef5350"/>
<rect x="1146.01" y="674.1" width="1.2" height="26.4" fill="#26a69a"/>
<rect x="1143.66" y="696.1" width="5.9" height="2.8" fill="#26a69a"/>
<rect x="1152.90" y="680.1" width="1.2" height="38.6" fill="#ef5350"/>
<rect x="1150.55" y="696.1" width="5.9" height="11.3" fill="#ef5350"/>
<rect x="1159.80" y="682.4" width="1.2" height="61.8" fill="#ef5350"/>
<rect x="1157.45" y="707.1" width="5.9" height="28.7" fill="#ef5350"/>
<rect x="1166.69" y="685.2" width="1.2" height="57.1" fill="#26a69a"/>
<rect x="1164.34" y="690.9" width="5.9" height="44.9" fill="#26a69a"/>
<rect x="1173.58" y="682.4" width="1.2" height="53.7" fill="#ef5350"/>
<rect x="1171.23" y="691.4" width="5.9" height="16.4" fill="#ef5350"/>
<rect x="1180.48" y="673.5" width="1.2" height="60.3" fill="#ef5350"/>
<rect x="1178.13" y="707.8" width="5.9" height="15.6" fill="#ef5350"/>
<rect x="1187.37" y="717.2" width="1.2" height="59.0" fill="#ef5350"/>
<rect x="1185.02" y="722.5" width="5.9" height="23.2" fill="#ef5350"/>
<rect x="1194.26" y="740.4" width="1.2" height="21.1" fill="#ef5350"/>
<rect x="1191.91" y="745.1" width="5.9" height="5.7" fill="#ef5350"/>
<rect x="1201.16" y="723.5" width="1.2" height="27.3" fill="#26a69a"/>
<rect x="1198.81" y="737.0" width="5.9" height="13.8" fill="#26a69a"/>
<rect x="1208.05" y="695.2" width="1.2" height="50.3" fill="#26a69a"/>
<rect x="1205.70" y="701.4" width="5.9" height="35.6" fill="#26a69a"/>
<rect x="1214.94" y="692.4" width="1.2" height="32.6" fill="#26a69a"/>
<rect x="1212.59" y="699.3" width="5.9" height="2.5" fill="#26a69a"/>
<rect x="1221.84" y="674.1" width="1.2" height="41.5" fill="#26a69a"/>
<rect x="1219.49" y="680.7" width="5.9" height="19.2" fill="#26a69a"/>
<rect x="1228.73" y="675.4" width="1.2" height="16.4" fill="#ef5350"/>
<rect x="1226.38" y="680.7" width="5.9" height="10.4" fill="#ef5350"/>
<rect x="1235.63" y="676.0" width="1.2" height="35.6" fill="#ef5350"/>
<rect x="1233.28" y="690.9" width="5.9" height="13.8" fill="#ef5350"/>
<line x1="15.5" y1="704.5" x2="1472.5" y2="704.5" stroke="#ef5350" stroke-width="1.3" stroke-dasharray="1.3 2.7"/>
</g>
<g clip-path="url(#cr)">
<rect x="15.5" y="861.8" width="1457.0" height="49.8" fill="#7e57c2" fill-opacity="0.1"/>
<path d="M16.1,861.8 L23.0,861.8 L29.9,861.8 L36.8,861.8 L43.6,861.8 L50.5,861.8 L57.4,861.8 L64.3,861.8 L71.2,861.8 L78.1,861.8 L85.0,861.8 L91.9,861.8 L98.8,861.8 L105.7,861.8 L112.6,861.8 L119.5,861.8 L126.4,861.8 L133.3,861.8 L140.2,861.8 L147.1,861.8 L153.9,861.8 L160.8,861.8 L167.7,861.8 L174.6,861.8 L181.5,861.8 L188.4,861.8 L195.3,861.8 L202.2,861.8 L209.1,861.8 L216.0,861.8 L222.9,861.8 L229.8,861.8 L236.7,861.8 L243.6,861.8 L250.5,861.8 L257.3,861.8 L264.2,861.8 L271.1,861.8 L278.0,861.8 L284.9,861.8 L291.8,861.8 L298.7,861.8 L305.6,861.8 L312.5,861.8 L319.4,861.7 L326.3,861.8 L333.2,858.6 L340.1,850.1 L347.0,846.1 L353.9,861.8 L360.8,861.8 L367.6,861.8 L374.5,861.8 L381.4,861.8 L388.3,861.8 L395.2,861.8 L402.1,861.8 L409.0,861.8 L415.9,861.8 L422.8,861.8 L429.7,861.8 L436.6,861.8 L443.5,861.8 L450.4,861.8 L457.3,861.8 L464.2,861.8 L471.0,861.8 L477.9,861.8 L484.8,861.8 L491.7,861.8 L498.6,861.8 L505.5,861.8 L512.4,861.8 L519.3,861.8 L526.2,861.8 L533.1,861.8 L540.0,861.8 L546.9,861.8 L553.8,861.8 L560.7,861.8 L567.6,861.8 L574.4,861.8 L581.3,861.8 L588.2,861.8 L595.1,861.8 L602.0,861.8 L608.9,861.8 L615.8,861.8 L622.7,861.8 L629.6,861.8 L636.5,861.8 L643.4,861.8 L650.3,861.8 L657.2,861.8 L664.1,861.8 L671.0,861.8 L677.9,861.8 L684.7,861.8 L691.6,861.8 L698.5,861.8 L705.4,860.9 L712.3,860.8 L719.2,861.8 L726.1,861.8 L733.0,861.8 L739.9,861.8 L746.8,861.8 L753.7,861.8 L760.6,861.8 L767.5,861.8 L774.4,861.8 L781.3,861.8 L788.1,861.8 L795.0,861.8 L801.9,861.8 L808.8,861.8 L815.7,861.8 L822.6,861.8 L829.5,861.8 L836.4,861.8 L843.3,861.8 L850.2,861.8 L857.1,861.8 L864.0,861.8 L870.9,861.8 L877.8,861.8 L884.7,861.8 L891.5,861.8 L898.4,861.8 L905.3,861.8 L912.2,861.8 L919.1,861.8 L926.0,861.8 L932.9,861.8 L939.8,861.8 L946.7,861.8 L953.6,861.8 L960.5,861.8 L967.4,861.8 L974.3,861.8 L981.2,861.8 L988.1,861.8 L995.0,861.8 L1001.8,861.8 L1008.7,861.8 L1015.6,861.8 L1022.5,861.8 L1029.4,861.8 L1036.3,861.8 L1043.2,861.8 L1050.1,861.8 L1057.0,861.8 L1063.9,861.8 L1070.8,861.8 L1077.7,861.8 L1084.6,861.8 L1091.5,861.8 L1098.4,861.8 L1105.2,861.8 L1112.1,861.8 L1119.0,861.8 L1125.9,861.8 L1132.8,861.8 L1139.7,861.8 L1146.6,861.8 L1153.5,861.8 L1160.4,861.8 L1167.3,861.8 L1174.2,861.8 L1181.1,861.8 L1188.0,861.8 L1194.9,861.8 L1201.8,861.8 L1208.7,861.8 L1215.5,861.8 L1222.4,861.8 L1229.3,861.8 L1236.2,861.8 L1236.2,861.8 L16.1,861.8 Z" fill="#4caf50" fill-opacity="0.14"/>
<line x1="16.1" y1="861.8" x2="1472.5" y2="861.8" stroke="#a6a9b1" stroke-opacity="0.95" stroke-width="1.5" stroke-dasharray="7.1 8.55"/>
<line x1="16.1" y1="886.6" x2="1472.5" y2="886.6" stroke="#a6a9b1" stroke-opacity="0.42" stroke-width="1.4" stroke-dasharray="7.1 8.55"/>
<line x1="16.1" y1="911.6" x2="1472.5" y2="911.6" stroke="#a6a9b1" stroke-opacity="0.95" stroke-width="1.5" stroke-dasharray="7.1 8.55"/>
<path d="M16.1,900.0 L23.0,908.0 L29.9,902.3 L36.8,899.1 L43.6,895.8 L50.5,884.8 L57.4,880.5 L64.3,885.8 L71.2,894.7 L78.1,898.1 L85.0,901.4 L91.9,891.0 L98.8,893.6 L105.7,896.5 L112.6,897.5 L119.5,896.4 L126.4,903.0 L133.3,906.6 L140.2,909.3 L147.1,893.0 L153.9,891.4 L160.8,893.7 L167.7,897.9 L174.6,893.8 L181.5,884.8 L188.4,882.3 L195.3,880.8 L202.2,889.5 L209.1,884.0 L216.0,884.2 L222.9,889.0 L229.8,888.7 L236.7,884.2 L243.6,887.8 L250.5,884.5 L257.3,878.8 L264.2,872.0 L271.1,874.1 L278.0,877.2 L284.9,876.6 L291.8,875.5 L298.7,873.4 L305.6,864.6 L312.5,862.8 L319.4,861.7 L326.3,862.0 L333.2,858.6 L340.1,850.1 L347.0,846.1 L353.9,868.7 L360.8,875.5 L367.6,872.9 L374.5,875.1 L381.4,872.2 L388.3,878.4 L395.2,880.1 L402.1,883.7 L409.0,889.2 L415.9,897.2 L422.8,900.2 L429.7,896.4 L436.6,888.7 L443.5,893.5 L450.4,889.4 L457.3,883.1 L464.2,882.1 L471.0,879.4 L477.9,877.0 L484.8,885.6 L491.7,872.8 L498.6,867.4 L505.5,875.5 L512.4,881.2 L519.3,878.6 L526.2,877.7 L533.1,884.7 L540.0,889.8 L546.9,881.3 L553.8,887.1 L560.7,875.0 L567.6,873.3 L574.4,872.4 L581.3,885.7 L588.2,880.8 L595.1,877.1 L602.0,871.8 L608.9,878.2 L615.8,879.8 L622.7,881.2 L629.6,883.6 L636.5,876.5 L643.4,875.8 L650.3,882.1 L657.2,881.5 L664.1,883.9 L671.0,879.8 L677.9,875.1 L684.7,873.3 L691.6,869.7 L698.5,867.1 L705.4,860.9 L712.3,860.8 L719.2,863.8 L726.1,869.3 L733.0,867.9 L739.9,863.7 L746.8,862.4 L753.7,871.8 L760.6,871.2 L767.5,874.7 L774.4,888.5 L781.3,893.7 L788.1,894.7 L795.0,905.6 L801.9,895.4 L808.8,896.5 L815.7,890.9 L822.6,889.5 L829.5,892.4 L836.4,882.7 L843.3,875.5 L850.2,877.2 L857.1,881.1 L864.0,880.5 L870.9,878.0 L877.8,887.6 L884.7,881.5 L891.5,887.2 L898.4,903.7 L905.3,907.7 L912.2,895.7 L919.1,889.6 L926.0,892.5 L932.9,896.2 L939.8,899.8 L946.7,900.9 L953.6,897.4 L960.5,897.2 L967.4,896.0 L974.3,898.2 L981.2,900.9 L988.1,892.7 L995.0,891.2 L1001.8,891.1 L1008.7,886.8 L1015.6,887.7 L1022.5,890.9 L1029.4,891.0 L1036.3,897.6 L1043.2,895.3 L1050.1,895.8 L1057.0,894.3 L1063.9,908.0 L1070.8,912.9 L1077.7,905.8 L1084.6,909.1 L1091.5,903.3 L1098.4,905.2 L1105.2,899.3 L1112.1,897.1 L1119.0,904.3 L1125.9,904.8 L1132.8,909.1 L1139.7,911.7 L1146.6,910.9 L1153.5,912.1 L1160.4,915.0 L1167.3,904.5 L1174.2,906.5 L1181.1,908.3 L1188.0,910.9 L1194.9,911.5 L1201.8,907.8 L1208.7,899.1 L1215.5,898.7 L1222.4,894.3 L1229.3,896.1 L1236.2,898.6" fill="none" stroke="#8559cf" stroke-width="1.65" stroke-linejoin="round"/>
</g>
<line x1="15.5" y1="107.8" x2="1584.3" y2="107.8" stroke="#373b47" stroke-width="1.2"/>
<line x1="15.5" y1="836.8" x2="1584.3" y2="836.8" stroke="#373b47" stroke-width="1.2"/>
<line x1="15.5" y1="923.3" x2="1584.3" y2="923.3" stroke="#373b47" stroke-width="1.2"/>
<line x1="1472.5" y1="41.9" x2="1472.5" y2="967.4" stroke="#373b47" stroke-width="1.2"/>
<rect x="15.5" y="41.9" width="1568.8" height="925.5" fill="none" stroke="#2f2f2f" stroke-width="1.35"/>
<text class="ax" x="1487" y="249.9">240.00</text>
<text class="ax" x="1487" y="340.1">220.00</text>
<text class="ax" x="1487" y="430.4">200.00</text>
<text class="ax" x="1487" y="520.6">180.00</text>
<text class="ax" x="1487" y="610.9">160.00</text>
<text class="ax" x="1487" y="701.1">140.00</text>
<text class="ax" x="1487" y="791.4">120.00</text>
<text class="ax" x="1487" y="60.4">500<tspan dx="3">K</tspan></text>
<text class="ax" x="1487" y="856.4">80.00</text>
<text class="ax" x="1487" y="905.9">40.00</text>
<text class="ax" x="202.3" y="952.6" text-anchor="middle" style="letter-spacing:0.3px">Jul</text>
<text class="ax" x="416.0" y="952.6" text-anchor="middle" style="letter-spacing:0.3px">Aug</text>
<text class="ax" x="629.7" y="952.6" text-anchor="middle" style="letter-spacing:0.3px">Sep</text>
<text class="ax" x="836.5" y="952.6" text-anchor="middle" style="letter-spacing:0.3px">Oct</text>
<text class="ax" x="1050.2" y="952.6" text-anchor="middle" style="letter-spacing:0.3px">Nov</text>
<text class="ax" x="1257.0" y="952.6" text-anchor="middle" style="letter-spacing:0.3px">Dec</text>
<text x="1470.5" y="952.8" text-anchor="end" font-size="19" font-weight="bold" fill="#d1d4dc" letter-spacing="0.6">20</text>
<rect x="1478.5" y="115" width="100" height="40" rx="6" fill="#0f0f0f" stroke="#2a2a2a" stroke-width="1"/>
<text x="1493" y="141.3" font-size="18.7" fill="#f4f4f4" letter-spacing="-0.25">USD</text>
<path d="M1473.2,691 H1573.7 a3.5,3.5 0 0 1 3.5,3.5 V736.6 a3.5,3.5 0 0 1 -3.5,3.5 H1473.2 Z" fill="#ef5350"/>
<text x="1489" y="711" font-size="18.5" fill="#fff" letter-spacing="1.2">137.62</text>
<text x="1487.5" y="733" font-size="18.5" fill="#fff" fill-opacity="0.82" letter-spacing="1.27">03:37:52</text>
<text class="lg" x="29" y="73.2" letter-spacing="0.25">Vol · SOL</text>
<text class="lg rd" x="119.5" y="73.2" letter-spacing="0.5">190.34<tspan dx="3">K</tspan></text>
<text class="lg" x="29" y="140.2" letter-spacing="0.22">Solana / U.S. Dollar · 1D · Binance</text>
<text class="lg" x="333" y="140.2" letter-spacing="0.22">O</text>
<text class="lg rd" x="347.3" y="140.2" letter-spacing="0.22">140.81</text>
<text class="lg" x="416.2" y="140.2" letter-spacing="0.22">H</text>
<text class="lg rd" x="428.6" y="140.2" letter-spacing="0.22">143.61</text>
<text class="lg" x="497.6" y="140.2" letter-spacing="0.22">L</text>
<text class="lg rd" x="507.5" y="140.2" letter-spacing="0.22">136.15</text>
<text class="lg" x="575.6" y="140.2" letter-spacing="0.22">C</text>
<text class="lg rd" x="589" y="140.2" letter-spacing="0.22">137.62</text>
<text class="lg rd" x="658" y="140.2" letter-spacing="0.45">−3.17 (−2.25%)</text>
<text class="lg" x="29" y="165.7" letter-spacing="0.56">Moving Average Explorer</text>
<text class="lg" x="28.6" y="868.6" letter-spacing="-0.6">RSI</text>
<text class="lg" x="68.6" y="868.6" letter-spacing="1.1" style="fill:#8a63d2">40.53</text>
<rect x="1233.85" y="121.7" width="225.25" height="308.5" fill="#fff"/>
<rect x="1236.80" y="124.8" width="219.40" height="55.20" fill="#8c363e"/>
<rect x="1236.80" y="181.9" width="219.40" height="39.25" fill="#ff5252"/>
<rect x="1236.80" y="223.05" width="219.40" height="39.30" fill="#ff9800"/>
<rect x="1236.80" y="264.25" width="219.40" height="39.25" fill="#ffeb3b"/>
<rect x="1236.80" y="305.4" width="219.40" height="39.25" fill="#4caf50"/>
<rect x="1236.80" y="346.55" width="219.40" height="39.30" fill="#2962ff"/>
<rect x="1236.80" y="387.75" width="219.40" height="39.15" fill="#000"/>
<line x1="1236.85" y1="152.8" x2="1456.1" y2="152.8" stroke="rgba(255,255,255,0.05)" stroke-width="1"/>
<text x="1343.4" y="163.4" text-anchor="middle" font-size="30.3" fill="#fff" letter-spacing="0.02">Bearish Trend</text>
<text class="tb" x="1245" y="209.1" style="letter-spacing:0.72px">20 EMA: 143.96</text>
<text class="tb" x="1245" y="250.3" style="letter-spacing:0.98px">50-EMA: 163.04</text>
<text class="tb" x="1245" y="291.5" style="letter-spacing:1.05px">200-EMA: 177.59</text>
<text class="tb" x="1245" y="332.6" style="letter-spacing:0.9px">9-EMA: 138.25</text>
<text class="tb" x="1245" y="373.8" style="letter-spacing:1.05px">365-EMA: 172.34</text>
<text class="tb" x="1346.6" y="414.7" text-anchor="middle" style="fill:#fff">ATR: 10.22</text>
<g fill="#dedede"><path d="M18.75,1001.6 H38.4 V1025 H28.1 V1010.9 H18.75 Z"/><circle cx="45" cy="1006.2" r="4.2"/><path d="M54.4,1001.6 H65.3 L54.9,1025 H44.4 Z"/></g>
<text x="76.5" y="1025" font-size="32.7" font-weight="bold" fill="#dedede" letter-spacing="-0.3">TradingView</text>
</svg></body></html>
